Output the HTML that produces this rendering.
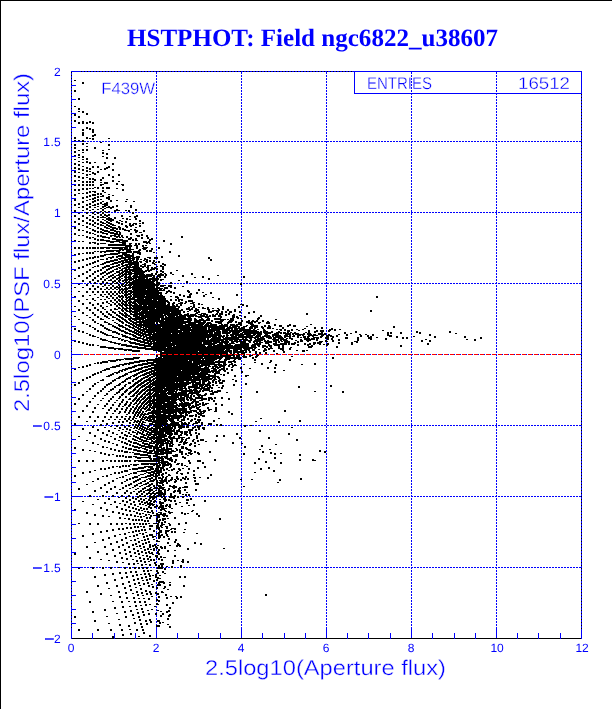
<!DOCTYPE html>
<html><head><meta charset="utf-8"><title>HSTPHOT: Field ngc6822_u38607</title>
<style>html,body{margin:0;padding:0;background:#fff}svg{display:block}</style></head>
<body>
<svg width="612" height="709" viewBox="0 0 612 709" shape-rendering="crispEdges">
<rect width="612" height="709" fill="#fff"/>
<rect x="0" y="0" width="612" height="1" fill="#000"/><rect x="0" y="0" width="1" height="709" fill="#000"/>
<rect x="354.5" y="71.5" width="227" height="22" fill="#fff" stroke="#00f" stroke-width="1"/>
<path d="M156.5 72V638M241.5 72V638M326.5 72V638M411.5 72V638M496.5 72V638M72 567.5H581M72 496.5H581M72 425.5H581M72 354.5H581M72 283.5H581M72 212.5H581M72 141.5H581" stroke="#00f" stroke-width="1" stroke-dasharray="2 1" fill="none"/>
<clipPath id="c"><rect x="71" y="71" width="511" height="568"/></clipPath><g clip-path="url(#c)">
<path d="M70 101h2M70 104h2M70 130h2M70 137h2M70 141h2M70 149h2M70 153h2M70 157h2M70 162h2M70 171h2M70 180h2M70 185h2M70 191h2M70 196h2M70 202h2M70 207h2M70 213h2M70 220h2M70 226h2M70 233h2M70 240h2M70 248h2M70 273h2M70 282h2M70 292h2M70 303h2M70 326h2M70 340h2M70 409h2M70 461h2M70 496h2M70 540h2M74 91h2M74 115h2M74 121h2M74 138h2M74 141h2M74 145h2M74 148h2M74 152h2M74 156h2M74 164h2M74 168h2M74 172h2M74 176h2M74 181h2M74 185h2M74 190h2M74 195h2M74 200h2M74 205h2M74 211h2M74 216h2M74 222h2M74 228h2M74 234h2M74 241h2M74 248h2M74 255h2M74 262h2M74 270h2M74 297h2M74 329h2M74 341h2M74 369h2M74 385h2M74 404h2M74 424h2M74 448h2M74 476h2M74 510h2M74 554h2M74 617h2M78 99h2M78 109h2M78 117h2M78 123h2M78 141h2M78 155h2M78 165h2M78 169h2M78 177h2M78 185h2M78 190h2M78 204h2M78 213h2M78 219h2M78 224h2M78 230h2M78 248h2M78 254h2M78 261h2M78 268h2M78 276h2M78 284h2M78 301h2M78 310h2M78 331h2M78 342h2M78 383h2M78 399h2M78 417h2M78 461h2M78 489h2M78 568h2M78 630h2M82 83h2M82 112h2M82 122h2M82 130h2M82 133h2M82 135h2M82 141h2M82 144h2M82 150h2M82 157h2M82 170h2M82 178h2M82 182h2M82 185h2M82 189h2M82 198h2M82 202h2M82 207h2M82 216h2M82 221h2M82 248h2M82 260h2M82 267h2M82 274h2M82 281h2M82 296h2M82 304h2M82 313h2M82 323h2M82 332h2M82 343h2M82 367h2M82 380h2M82 395h2M82 411h2M82 429h2M82 450h2M82 473h2M82 536h2M86 114h2M86 123h2M86 128h2M86 138h2M86 150h2M86 159h2M86 162h2M86 168h2M86 171h2M86 175h2M86 182h2M86 185h2M86 189h2M86 193h2M86 197h2M86 205h2M86 209h2M86 213h2M86 218h2M86 223h2M86 227h2M86 232h2M86 237h2M86 248h2M86 253h2M86 259h2M86 265h2M86 272h2M86 278h2M86 285h2M86 292h2M86 308h2M86 344h2M86 366h2M86 378h2M86 406h2M86 461h2M86 513h2M86 547h2M86 592h2M89 122h2M89 129h2M89 163h2M89 169h2M89 179h2M89 182h2M89 185h2M89 192h2M89 196h2M89 204h2M89 207h2M89 220h2M89 224h2M89 233h2M89 238h2M89 243h2M89 248h2M89 253h2M89 258h2M89 264h2M89 270h2M89 276h2M89 282h2M89 289h2M89 303h2M89 310h2M89 326h2M89 335h2M89 345h2M89 365h2M89 377h2M89 389h2M89 402h2M89 417h2M89 433h2M89 472h2M89 496h2M89 524h2M89 558h2M89 602h2M92 123h2M92 130h2M92 132h2M92 136h2M92 139h2M92 167h2M92 173h2M92 179h2M92 182h2M92 185h2M92 195h2M92 199h2M92 202h2M92 213h2M92 217h2M92 221h2M92 225h2M92 230h2M92 248h2M92 253h2M92 258h2M92 263h2M92 274h2M92 280h2M92 286h2M92 292h2M92 299h2M92 305h2M92 313h2M92 320h2M92 336h2M92 345h2M92 375h2M92 386h2M92 412h2M92 427h2M92 443h2M92 461h2M92 534h2M92 568h2M92 612h2M94 135h2M94 148h2M94 174h2M94 180h2M94 192h2M94 195h2M94 198h2M94 201h2M94 205h2M94 223h2M94 231h2M94 239h2M94 243h2M94 248h2M94 257h2M94 262h2M94 272h2M94 278h2M94 283h2M94 289h2M94 308h2M94 315h2M94 322h2M94 329h2M94 374h2M94 384h2M94 396h2M94 408h2M94 421h2M94 436h2M94 491h2M94 515h2M94 577h2M94 621h2M97 167h2M97 172h2M97 188h2M97 194h2M97 197h2M97 200h2M97 204h2M97 213h2M97 217h2M97 220h2M97 224h2M97 228h2M97 232h2M97 236h2M97 240h2M97 244h2M97 248h2M97 257h2M97 261h2M97 266h2M97 271h2M97 276h2M97 281h2M97 287h2M97 292h2M97 304h2M97 310h2M97 317h2M97 331h2M97 363h2M97 373h2M97 393h2M97 417h2M97 430h2M97 479h2M97 524h2M97 552h2M97 586h2M97 630h2M100 180h2M100 185h2M100 194h2M100 203h2M100 215h2M100 222h2M100 225h2M100 229h2M100 232h2M100 236h2M100 240h2M100 248h2M100 252h2M100 256h2M100 270h2M100 274h2M100 279h2M100 284h2M100 289h2M100 295h2M100 306h2M100 312h2M100 319h2M100 325h2M100 332h2M100 339h2M100 347h2M100 363h2M100 372h2M100 391h2M100 425h2M100 439h2M100 453h2M100 469h2M100 488h2M100 508h2M100 532h2M100 594h2M102 153h2M102 178h2M102 188h2M102 191h2M102 196h2M102 207h2M102 210h2M102 213h2M102 217h2M102 223h2M102 230h2M102 233h2M102 237h2M102 240h2M102 248h2M102 256h2M102 264h2M102 268h2M102 273h2M102 277h2M102 282h2M102 292h2M102 303h2M102 308h2M102 314h2M102 326h2M102 333h2M102 340h2M102 347h2M102 362h2M102 380h2M102 389h2M102 421h2M102 433h2M102 447h2M102 461h2M102 496h2M102 516h2M102 540h2M102 568h2M104 163h2M104 169h2M104 183h2M104 204h2M104 206h2M104 215h2M104 227h2M104 231h2M104 237h2M104 252h2M104 255h2M104 263h2M104 267h2M104 272h2M104 280h2M104 285h2M104 316h2M104 322h2M104 328h2M104 334h2M104 340h2M104 347h2M104 362h2M104 370h2M104 387h2M104 406h2M104 417h2M104 441h2M104 454h2M104 469h2M104 485h2M104 503h2M104 547h2M104 575h2M104 610h2M106 154h2M106 158h2M106 168h2M106 183h2M106 188h2M106 198h2M106 203h2M106 205h2M106 216h2M106 219h2M106 222h2M106 225h2M106 228h2M106 231h2M106 234h2M106 241h2M106 248h2M106 251h2M106 259h2M106 262h2M106 266h2M106 270h2M106 274h2M106 283h2M106 288h2M106 292h2M106 297h2M106 302h2M106 312h2M106 317h2M106 329h2M106 335h2M106 362h2M106 369h2M106 385h2M106 394h2M106 404h2M106 413h2M106 424h2M106 435h2M106 476h2M106 492h2M106 510h2M106 531h2M106 554h2M106 583h2M108 145h2M108 167h2M108 175h2M108 188h2M108 197h2M108 199h2M108 207h2M108 215h2M108 218h2M108 220h2M108 223h2M108 226h2M108 232h2M108 238h2M108 241h2M108 245h2M108 248h2M108 251h2M108 262h2M108 266h2M108 269h2M108 273h2M108 277h2M108 294h2M108 314h2M108 324h2M108 330h2M108 348h2M108 369h2M108 376h2M108 384h2M108 401h2M108 410h2M108 431h2M108 442h2M108 455h2M108 468h2M108 483h2M108 499h2M108 538h2M110 201h2M110 208h2M110 219h2M110 221h2M110 224h2M110 227h2M110 230h2M110 233h2M110 236h2M110 242h2M110 245h2M110 251h2M110 254h2M110 258h2M110 261h2M110 268h2M110 272h2M110 276h2M110 280h2M110 284h2M110 288h2M110 292h2M110 296h2M110 301h2M110 305h2M110 310h2M110 315h2M110 342h2M110 348h2M110 361h2M110 375h2M110 383h2M110 390h2M110 399h2M110 408h2M110 417h2M110 449h2M110 461h2M110 489h2M110 524h2M110 544h2M110 568h2M110 630h2M112 164h2M112 170h2M112 177h2M112 181h2M112 207h2M112 220h2M112 225h2M112 228h2M112 230h2M112 233h2M112 239h2M112 242h2M112 245h2M112 248h2M112 251h2M112 254h2M112 257h2M112 261h2M112 264h2M112 267h2M112 271h2M112 275h2M112 278h2M112 282h2M112 286h2M112 294h2M112 298h2M112 312h2M112 317h2M112 326h2M112 332h2M112 337h2M112 348h2M112 361h2M112 367h2M112 374h2M112 381h2M112 389h2M112 397h2M112 405h2M112 423h2M112 433h2M112 467h2M112 481h2M112 496h2M112 512h2M112 530h2M112 550h2M112 574h2M112 637h2M114 158h2M114 211h2M114 218h2M114 228h2M114 231h2M114 234h2M114 236h2M114 239h2M114 245h2M114 248h2M114 254h2M114 260h2M114 263h2M114 277h2M114 281h2M114 288h2M114 292h2M114 300h2M114 304h2M114 309h2M114 313h2M114 327h2M114 332h2M114 343h2M114 349h2M114 361h2M114 367h2M114 380h2M114 387h2M114 411h2M114 439h2M114 450h2M114 461h2M114 473h2M114 487h2M114 502h2M114 536h2M114 556h2M114 580h2M114 608h2M116 184h2M116 206h2M116 210h2M116 222h2M116 229h2M116 232h2M116 234h2M116 237h2M116 240h2M116 245h2M116 248h2M116 251h2M116 254h2M116 257h2M116 260h2M116 263h2M116 266h2M116 269h2M116 272h2M116 279h2M116 283h2M116 287h2M116 294h2M116 298h2M116 302h2M116 306h2M116 315h2M116 319h2M116 328h2M116 333h2M116 360h2M116 366h2M116 373h2M116 393h2M116 409h2M116 417h2M116 426h2M116 445h2M116 456h2M116 493h2M116 507h2M116 524h2M116 542h2M116 562h2M116 586h2M118 175h2M118 223h2M118 227h2M118 235h2M118 240h2M118 245h2M118 248h2M118 251h2M118 253h2M118 256h2M118 262h2M118 265h2M118 272h2M118 275h2M118 278h2M118 281h2M118 285h2M118 288h2M118 292h2M118 296h2M118 300h2M118 304h2M118 308h2M118 316h2M118 320h2M118 325h2M118 329h2M118 334h2M118 339h2M118 344h2M118 349h2M118 366h2M118 372h2M118 378h2M118 385h2M118 392h2M118 406h2M118 422h2M118 451h2M118 461h2M118 473h2M118 513h2M118 529h2M118 547h2M118 592h2M119 228h2M119 233h2M119 240h2M119 245h2M119 248h2M119 250h2M119 256h2M119 259h2M119 262h2M119 268h2M119 274h2M119 277h2M119 280h2M119 287h2M119 290h2M119 297h2M119 301h2M119 305h2M119 313h2M119 317h2M119 321h2M119 326h2M119 330h2M119 349h2M119 360h2M119 377h2M119 384h2M119 390h2M119 397h2M119 404h2M119 412h2M119 428h2M119 437h2M119 456h2M119 467h2M119 518h2M119 553h2M119 573h2M119 597h2M119 625h2M121 216h2M121 224h2M121 236h2M121 240h2M121 245h2M121 248h2M121 256h2M121 258h2M121 261h2M121 264h2M121 270h2M121 273h2M121 276h2M121 285h2M121 289h2M121 292h2M121 296h2M121 299h2M121 303h2M121 306h2M121 310h2M121 314h2M121 318h2M121 322h2M121 326h2M121 331h2M121 340h2M121 345h2M121 349h2M121 371h2M121 389h2M121 395h2M121 402h2M121 409h2M121 417h2M121 425h2M121 433h2M121 442h2M121 451h2M121 461h2M121 472h2M121 483h2M121 496h2M121 509h2M121 524h2M121 540h2M121 558h2M121 578h2M121 602h2M121 630h2M122 185h2M122 190h2M122 229h2M122 241h2M122 243h2M122 245h2M122 250h2M122 253h2M122 258h2M122 261h2M122 263h2M122 266h2M122 272h2M122 275h2M122 281h2M122 284h2M122 290h2M122 297h2M122 301h2M122 304h2M122 308h2M122 311h2M122 315h2M122 319h2M122 323h2M122 327h2M122 331h2M122 336h2M122 345h2M122 365h2M122 376h2M122 382h2M122 388h2M122 394h2M122 400h2M122 422h2M122 438h2M122 447h2M122 456h2M122 466h2M122 477h2M122 488h2M122 501h2M122 514h2M122 529h2M122 545h2M122 584h2M122 607h2M122 635h2M124 230h2M124 241h2M124 243h2M124 245h2M124 248h2M124 253h2M124 255h2M124 258h2M124 260h2M124 268h2M124 271h2M124 274h2M124 277h2M124 280h2M124 286h2M124 289h2M124 292h2M124 295h2M124 302h2M124 305h2M124 309h2M124 313h2M124 316h2M124 320h2M124 332h2M124 336h2M124 341h2M124 345h2M124 350h2M124 364h2M124 370h2M124 375h2M124 381h2M124 386h2M124 392h2M124 405h2M124 412h2M124 419h2M124 427h2M124 435h2M124 443h2M124 452h2M124 461h2M124 471h2M124 493h2M124 505h2M124 534h2M124 550h2M124 568h2M124 588h2M124 612h2M125 222h2M125 226h2M125 241h2M125 246h2M125 248h2M125 253h2M125 262h2M125 265h2M125 268h2M125 273h2M125 276h2M125 279h2M125 282h2M125 285h2M125 288h2M125 294h2M125 297h2M125 303h2M125 310h2M125 314h2M125 317h2M125 321h2M125 325h2M125 329h2M125 333h2M125 337h2M125 345h2M125 350h2M125 359h2M125 364h2M125 369h2M125 374h2M125 391h2M125 397h2M125 404h2M125 410h2M125 439h2M125 448h2M125 457h2M125 466h2M125 486h2M125 498h2M125 510h2M125 538h2M125 554h2M125 573h2M125 593h2M125 617h2M126 219h2M126 227h2M126 237h2M126 241h2M126 246h2M126 248h2M126 250h2M126 252h2M126 255h2M126 257h2M126 260h2M126 262h2M126 265h2M126 267h2M126 270h2M126 272h2M126 280h2M126 283h2M126 289h2M126 292h2M126 295h2M126 298h2M126 301h2M126 305h2M126 308h2M126 311h2M126 315h2M126 322h2M126 329h2M126 333h2M126 337h2M126 346h2M126 359h2M126 369h2M126 374h2M126 379h2M126 390h2M126 402h2M126 408h2M126 421h2M126 429h2M126 436h2M126 444h2M126 452h2M126 461h2M126 471h2M126 480h2M126 491h2M126 502h2M126 515h2M126 528h2M126 543h2M126 559h2M126 577h2M126 598h2M128 211h2M128 231h2M128 239h2M128 246h2M128 250h2M128 252h2M128 255h2M128 257h2M128 259h2M128 262h2M128 264h2M128 267h2M128 269h2M128 272h2M128 274h2M128 277h2M128 279h2M128 282h2M128 285h2M128 288h2M128 291h2M128 294h2M128 297h2M128 300h2M128 303h2M128 316h2M128 319h2M128 323h2M128 326h2M128 330h2M128 346h2M128 350h2M128 359h2M128 364h2M128 368h2M128 378h2M128 383h2M128 394h2M128 406h2M128 413h2M128 419h2M128 426h2M128 433h2M128 441h2M128 449h2M128 457h2M128 466h2M128 485h2M128 496h2M128 507h2M128 519h2M128 547h2M128 564h2M128 582h2M128 626h2M129 224h2M129 244h2M129 248h2M129 250h2M129 252h2M129 257h2M129 259h2M129 266h2M129 271h2M129 273h2M129 276h2M129 278h2M129 298h2M129 301h2M129 304h2M129 307h2M129 310h2M129 320h2M129 327h2M129 331h2M129 334h2M129 338h2M129 342h2M129 346h2M129 359h2M129 363h2M129 378h2M129 383h2M129 388h2M129 393h2M129 399h2M129 405h2M129 411h2M129 417h2M129 423h2M129 430h2M129 445h2M129 461h2M129 479h2M129 500h2M129 511h2M129 524h2M129 552h2M129 568h2M129 586h2M130 206h2M130 226h2M130 234h2M130 238h2M130 246h2M130 252h2M130 256h2M130 261h2M130 263h2M130 265h2M130 270h2M130 273h2M130 278h2M130 280h2M130 283h2M130 285h2M130 291h2M130 293h2M130 296h2M130 299h2M130 302h2M130 305h2M130 308h2M130 311h2M130 314h2M130 318h2M130 321h2M130 324h2M130 331h2M130 339h2M130 343h2M130 346h2M130 350h2M130 359h2M130 363h2M130 368h2M130 372h2M130 387h2M130 392h2M130 403h2M130 409h2M130 442h2M130 449h2M130 457h2M130 484h2M130 493h2M130 504h2M130 515h2M130 528h2M130 556h2M130 572h2M130 590h2M130 611h2M130 634h2M132 213h2M132 225h2M132 240h2M132 254h2M132 256h2M132 258h2M132 260h2M132 263h2M132 267h2M132 270h2M132 279h2M132 282h2M132 284h2M132 287h2M132 289h2M132 292h2M132 298h2M132 303h2M132 306h2M132 309h2M132 312h2M132 319h2M132 322h2M132 325h2M132 328h2M132 332h2M132 335h2M132 339h2M132 343h2M132 347h2M132 351h2M132 359h2M132 363h2M132 367h2M132 381h2M132 386h2M132 391h2M132 396h2M132 401h2M132 407h2M132 413h2M132 419h2M132 432h2M132 439h2M132 446h2M132 469h2M132 478h2M132 498h2M132 508h2M132 520h2M132 532h2M132 545h2M132 576h2M132 615h2M133 252h2M133 258h2M133 264h2M133 267h2M133 269h2M133 271h2M133 276h2M133 278h2M133 283h2M133 286h2M133 288h2M133 293h2M133 296h2M133 299h2M133 302h2M133 307h2M133 316h2M133 319h2M133 323h2M133 326h2M133 332h2M133 336h2M133 339h2M133 343h2M133 347h2M133 351h2M133 358h2M133 367h2M133 371h2M133 376h2M133 385h2M133 390h2M133 395h2M133 400h2M133 411h2M133 417h2M133 436h2M133 443h2M133 450h2M133 465h2M133 473h2M133 482h2M133 502h2M133 524h2M133 536h2M133 549h2M133 564h2M133 580h2M133 598h2M134 217h2M134 230h2M134 262h2M134 264h2M134 266h2M134 268h2M134 271h2M134 273h2M134 275h2M134 277h2M134 282h2M134 285h2M134 290h2M134 292h2M134 295h2M134 297h2M134 300h2M134 305h2M134 308h2M134 311h2M134 314h2M134 320h2M134 323h2M134 330h2M134 333h2M134 336h2M134 340h2M134 343h2M134 347h2M134 351h2M134 358h2M134 362h2M134 366h2M134 371h2M134 375h2M134 384h2M134 389h2M134 399h2M134 409h2M134 415h2M134 421h2M134 427h2M134 440h2M134 447h2M134 454h2M134 461h2M134 469h2M134 477h2M134 486h2M134 505h2M134 516h2M134 527h2M134 540h2M134 553h2M134 568h2M134 584h2M134 602h2M134 623h2M135 210h2M135 219h2M135 224h2M135 232h2M135 239h2M135 240h2M135 244h2M135 252h2M135 262h2M135 264h2M135 266h2M135 268h2M135 270h2M135 272h2M135 274h2M135 277h2M135 279h2M135 281h2M135 284h2M135 286h2M135 288h2M135 291h2M135 293h2M135 301h2M135 304h2M135 307h2M135 309h2M135 312h2M135 315h2M135 318h2M135 324h2M135 327h2M135 330h2M135 333h2M135 337h2M135 340h2M135 344h2M135 347h2M135 358h2M135 366h2M135 370h2M135 375h2M135 379h2M135 383h2M135 393h2M135 398h2M135 403h2M135 408h2M135 413h2M135 425h2M135 437h2M135 443h2M135 450h2M135 457h2M135 465h2M135 473h2M135 481h2M135 499h2M135 509h2M135 520h2M135 531h2M135 544h2M135 572h2M135 606h2M136 216h2M136 231h2M136 246h2M136 248h2M136 257h2M136 259h2M136 261h2M136 265h2M136 272h2M136 276h2M136 280h2M136 283h2M136 287h2M136 290h2M136 292h2M136 295h2M136 297h2M136 300h2M136 305h2M136 308h2M136 310h2M136 313h2M136 316h2M136 319h2M136 322h2M136 325h2M136 331h2M136 334h2M136 340h2M136 344h2M136 347h2M136 351h2M136 358h2M136 362h2M136 370h2M136 374h2M136 378h2M136 383h2M136 387h2M136 392h2M136 396h2M136 401h2M136 406h2M136 412h2M136 422h2M136 428h2M136 434h2M136 447h2M136 454h2M136 469h2M136 477h2M136 485h2M136 494h2M136 513h2M136 535h2M136 561h2M136 575h2M136 592h2M136 630h2M137 236h2M137 253h2M137 259h2M137 263h2M137 265h2M137 267h2M137 269h2M137 271h2M137 273h2M137 277h2M137 280h2M137 286h2M137 289h2M137 291h2M137 293h2M137 296h2M137 298h2M137 301h2M137 306h2M137 308h2M137 311h2M137 314h2M137 317h2M137 319h2M137 322h2M137 325h2M137 328h2M137 331h2M137 334h2M137 338h2M137 341h2M137 348h2M137 351h2M137 358h2M137 362h2M137 370h2M137 382h2M137 386h2M137 391h2M137 400h2M137 410h2M137 415h2M137 421h2M137 426h2M137 432h2M137 438h2M137 444h2M137 451h2M137 458h2M137 480h2M137 497h2M137 527h2M137 551h2M137 579h2M137 595h2M137 613h2M138 236h2M138 244h2M138 251h2M138 253h2M138 257h2M138 268h2M138 270h2M138 272h2M138 274h2M138 277h2M138 279h2M138 281h2M138 283h2M138 285h2M138 288h2M138 290h2M138 292h2M138 294h2M138 297h2M138 299h2M138 302h2M138 307h2M138 309h2M138 317h2M138 326h2M138 329h2M138 332h2M138 335h2M138 338h2M138 341h2M138 344h2M138 348h2M138 351h2M138 362h2M138 365h2M138 369h2M138 373h2M138 381h2M138 385h2M138 394h2M138 399h2M138 408h2M138 413h2M138 424h2M138 448h2M138 454h2M138 461h2M138 468h2M138 492h2M138 501h2M138 510h2M138 520h2M138 531h2M138 542h2M138 554h2M138 568h2M138 583h2M138 617h2M139 221h2M139 226h2M139 250h2M139 253h2M139 270h2M139 272h2M139 278h2M139 282h2M139 284h2M139 287h2M139 289h2M139 291h2M139 293h2M139 296h2M139 298h2M139 300h2M139 303h2M139 305h2M139 308h2M139 310h2M139 313h2M139 315h2M139 318h2M139 321h2M139 324h2M139 326h2M139 332h2M139 335h2M139 338h2M139 345h2M139 361h2M139 369h2M139 381h2M139 385h2M139 393h2M139 402h2M139 407h2M139 412h2M139 417h2M139 422h2M139 428h2M139 433h2M139 439h2M139 445h2M139 451h2M139 458h2M139 479h2M139 496h2M139 504h2M139 514h2M139 524h2M139 546h2M139 558h2M139 602h2M139 620h2M140 262h2M140 266h2M140 269h2M140 271h2M140 275h2M140 277h2M140 279h2M140 281h2M140 283h2M140 288h2M140 290h2M140 294h2M140 297h2M140 301h2M140 304h2M140 306h2M140 309h2M140 319h2M140 322h2M140 324h2M140 327h2M140 330h2M140 333h2M140 336h2M140 342h2M140 345h2M140 348h2M140 361h2M140 365h2M140 369h2M140 372h2M140 380h2M140 384h2M140 392h2M140 397h2M140 406h2M140 410h2M140 415h2M140 420h2M140 426h2M140 437h2M140 455h2M140 461h2M140 468h2M140 483h2M140 491h2M140 499h2M140 508h2M140 517h2M140 561h2M140 589h2M140 624h2M141 235h2M141 238h2M141 271h2M141 273h2M141 279h2M141 283h2M141 285h2M141 291h2M141 293h2M141 295h2M141 298h2M141 300h2M141 302h2M141 307h2M141 309h2M141 312h2M141 314h2M141 317h2M141 322h2M141 325h2M141 330h2M141 333h2M141 342h2M141 345h2M141 348h2M141 361h2M141 365h2M141 368h2M141 372h2M141 379h2M141 383h2M141 387h2M141 391h2M141 396h2M141 404h2M141 414h2M141 419h2M141 424h2M141 429h2M141 434h2M141 440h2M141 446h2M141 464h2M141 471h2M141 494h2M141 502h2M141 520h2M141 530h2M141 552h2M141 565h2M141 578h2M141 593h2M141 609h2M141 627h2M142 223h2M142 246h2M142 274h2M142 276h2M142 280h2M142 282h2M142 286h2M142 288h2M142 290h2M142 292h2M142 296h2M142 299h2M142 303h2M142 308h2M142 310h2M142 315h2M142 318h2M142 320h2M142 325h2M142 331h2M142 334h2M142 339h2M142 345h2M142 361h2M142 371h2M142 375h2M142 383h2M142 386h2M142 390h2M142 399h2M142 403h2M142 408h2M142 412h2M142 417h2M142 422h2M142 427h2M142 432h2M142 437h2M142 443h2M142 455h2M142 461h2M142 468h2M142 489h2M142 524h2M142 534h2M142 544h2M142 568h2M142 612h2M142 630h2M143 231h2M143 242h2M143 248h2M143 249h2M143 272h2M143 275h2M143 277h2M143 279h2M143 281h2M143 283h2M143 285h2M143 287h2M143 289h2M143 293h2M143 295h2M143 297h2M143 300h2M143 302h2M143 306h2M143 309h2M143 311h2M143 313h2M143 316h2M143 321h2M143 323h2M143 326h2M143 329h2M143 337h2M143 340h2M143 342h2M143 348h2M143 361h2M143 364h2M143 371h2M143 375h2M143 378h2M143 382h2M143 386h2M143 390h2M143 394h2M143 398h2M143 402h2M143 406h2M143 415h2M143 430h2M143 435h2M143 441h2M143 446h2M143 452h2M143 464h2M143 471h2M143 492h2M143 500h2M143 509h2M143 527h2M143 537h2M143 547h2M143 559h2M143 571h2M143 584h2M143 615h2M143 633h2M144 242h2M144 249h2M144 259h2M144 264h2M144 266h2M144 276h2M144 286h2M144 288h2M144 301h2M144 303h2M144 305h2M144 307h2M144 309h2M144 312h2M144 321h2M144 324h2M144 326h2M144 332h2M144 334h2M144 340h2M144 343h2M144 346h2M144 348h2M144 364h2M144 367h2M144 371h2M144 374h2M144 381h2M144 385h2M144 389h2M144 393h2M144 397h2M144 401h2M144 409h2M144 414h2M144 418h2M144 428h2M144 438h2M144 444h2M144 449h2M144 455h2M144 461h2M144 467h2M144 481h2M144 488h2M144 496h2M144 503h2M144 521h2M144 530h2M144 540h2M144 550h2M144 562h2M144 574h2M144 602h2M145 242h2M145 248h2M145 271h2M145 276h2M145 281h2M145 283h2M145 287h2M145 293h2M145 297h2M145 299h2M145 301h2M145 304h2M145 306h2M145 308h2M145 310h2M145 315h2M145 317h2M145 320h2M145 322h2M145 324h2M145 327h2M145 329h2M145 332h2M145 335h2M145 340h2M145 343h2M145 349h2M145 364h2M145 367h2M145 374h2M145 377h2M145 381h2M145 388h2M145 400h2M145 404h2M145 408h2M145 417h2M145 431h2M145 441h2M145 447h2M145 452h2M145 464h2M145 471h2M145 477h2M145 484h2M145 515h2M145 524h2M145 543h2M145 553h2M145 577h2M145 591h2M145 605h2M145 621h2M146 236h2M146 243h2M146 251h2M146 260h2M146 262h2M146 277h2M146 279h2M146 281h2M146 283h2M146 288h2M146 292h2M146 294h2M146 296h2M146 302h2M146 304h2M146 307h2M146 309h2M146 311h2M146 313h2M146 320h2M146 323h2M146 325h2M146 327h2M146 330h2M146 332h2M146 335h2M146 338h2M146 343h2M146 346h2M146 361h2M146 364h2M146 367h2M146 370h2M146 373h2M146 377h2M146 380h2M146 384h2M146 391h2M146 395h2M146 399h2M146 403h2M146 407h2M146 420h2M146 429h2M146 434h2M146 439h2M146 444h2M146 450h2M146 455h2M146 461h2M146 494h2M146 502h2M146 509h2M146 518h2M146 536h2M146 556h2M146 568h2M146 580h2M146 594h2M146 624h2M147 238h2M147 266h2M147 268h2M147 270h2M147 275h2M147 276h2M147 280h2M147 284h2M147 285h2M147 287h2M147 289h2M147 291h2M147 293h2M147 295h2M147 297h2M147 299h2M147 301h2M147 307h2M147 312h2M147 316h2M147 318h2M147 321h2M147 323h2M147 325h2M147 330h2M147 335h2M147 341h2M147 343h2M147 346h2M147 349h2M147 376h2M147 380h2M147 383h2M147 387h2M147 390h2M147 394h2M147 398h2M147 402h2M147 410h2M147 414h2M147 418h2M147 427h2M147 432h2M147 437h2M147 447h2M147 453h2M147 464h2M147 470h2M147 476h2M147 483h2M147 490h2M147 504h2M147 512h2M147 521h2M147 539h2M147 549h2M147 559h2M147 571h2M147 583h2M148 242h2M148 271h2M148 276h2M148 285h2M148 290h2M148 292h2M148 294h2M148 300h2M148 302h2M148 308h2M148 312h2M148 315h2M148 319h2M148 321h2M148 324h2M148 326h2M148 328h2M148 331h2M148 333h2M148 338h2M148 341h2M148 344h2M148 360h2M148 363h2M148 366h2M148 373h2M148 379h2M148 386h2M148 390h2M148 393h2M148 397h2M148 401h2M148 405h2M148 409h2M148 413h2M148 417h2M148 421h2M148 426h2M148 435h2M148 445h2M148 456h2M148 461h2M148 467h2M148 473h2M148 486h2M148 493h2M148 500h2M148 507h2M148 542h2M148 552h2M148 574h2M148 586h2M148 599h2M148 614h2M149 240h2M149 251h2M149 258h2M149 261h2M149 275h2M149 279h2M149 281h2M149 282h2M149 283h2M149 284h2M149 285h2M149 286h2M149 288h2M149 289h2M149 292h2M149 293h2M149 294h2M149 296h2M149 297h2M149 298h2M149 299h2M149 300h2M149 301h2M149 303h2M149 304h2M149 305h2M149 309h2M149 310h2M149 311h2M149 313h2M149 314h2M149 315h2M149 316h2M149 318h2M149 320h2M149 322h2M149 326h2M149 327h2M149 329h2M149 331h2M149 332h2M149 334h2M149 336h2M149 339h2M149 341h2M149 344h2M149 346h2M149 349h2M149 360h2M149 363h2M149 366h2M149 369h2M149 372h2M149 375h2M149 379h2M149 381h2M149 382h2M149 385h2M149 389h2M149 392h2M149 395h2M149 396h2M149 399h2M149 402h2M149 404h2M149 406h2M149 407h2M149 410h2M149 416h2M149 418h2M149 420h2M149 424h2M149 433h2M149 438h2M149 443h2M149 446h2M149 448h2M149 451h2M149 453h2M149 456h2M149 458h2M149 461h2M149 467h2M149 470h2M149 473h2M149 476h2M149 479h2M149 485h2M149 489h2M149 491h2M149 496h2M149 498h2M149 503h2M149 505h2M149 518h2M149 526h2M149 529h2M149 535h2M149 545h2M149 547h2M149 557h2M149 565h2M149 576h2M149 579h2M149 592h2M149 620h2M149 636h2M150 251h2M150 270h2M150 276h2M150 279h2M150 286h2M150 288h2M150 291h2M150 293h2M150 295h2M150 299h2M150 300h2M150 302h2M150 304h2M150 306h2M150 308h2M150 314h2M150 319h2M150 321h2M150 323h2M150 325h2M150 330h2M150 332h2M150 334h2M150 337h2M150 339h2M150 342h2M150 344h2M150 349h2M150 360h2M150 369h2M150 372h2M150 381h2M150 384h2M150 387h2M150 394h2M150 398h2M150 405h2M150 413h2M150 417h2M150 421h2M150 430h2M150 434h2M150 439h2M150 443h2M150 448h2M150 453h2M150 459h2M150 464h2M150 469h2M150 475h2M150 481h2M150 494h2M150 501h2M150 508h2M150 516h2M150 560h2M150 594h2M150 622h2M151 239h2M151 249h2M151 268h2M151 274h2M151 275h2M151 279h2M151 282h2M151 283h2M151 285h2M151 287h2M151 289h2M151 290h2M151 292h2M151 294h2M151 296h2M151 297h2M151 301h2M151 303h2M151 305h2M151 309h2M151 311h2M151 313h2M151 315h2M151 317h2M151 319h2M151 328h2M151 330h2M151 332h2M151 337h2M151 339h2M151 347h2M151 349h2M151 363h2M151 365h2M151 371h2M151 374h2M151 377h2M151 384h2M151 390h2M151 401h2M151 408h2M151 412h2M151 416h2M151 424h2M151 428h2M151 432h2M151 437h2M151 441h2M151 446h2M151 451h2M151 461h2M151 467h2M151 472h2M151 478h2M151 484h2M151 490h2M151 497h2M151 504h2M151 511h2M151 526h2M151 535h2M151 553h2M152 263h2M152 269h2M152 278h2M152 280h2M152 281h2M152 286h2M152 288h2M152 290h2M152 297h2M152 298h2M152 304h2M152 308h2M152 320h2M152 324h2M152 326h2M152 328h2M152 335h2M152 337h2M152 340h2M152 347h2M152 349h2M152 360h2M152 363h2M152 365h2M152 368h2M152 374h2M152 380h2M152 383h2M152 396h2M152 403h2M152 407h2M152 411h2M152 414h2M152 418h2M152 422h2M152 464h2M152 469h2M152 475h2M152 481h2M152 493h2M152 499h2M152 513h2M152 537h2M152 546h2M152 587h2M153 261h2M153 276h2M153 278h2M153 284h2M153 285h2M153 286h2M153 287h2M153 288h2M153 289h2M153 290h2M153 291h2M153 292h2M153 293h2M153 294h2M153 295h2M153 296h2M153 297h2M153 299h2M153 300h2M153 301h2M153 302h2M153 303h2M153 305h2M153 307h2M153 308h2M153 311h2M153 312h2M153 313h2M153 314h2M153 315h2M153 316h2M153 319h2M153 321h2M153 324h2M153 327h2M153 329h2M153 331h2M153 333h2M153 335h2M153 336h2M153 338h2M153 340h2M153 342h2M153 345h2M153 347h2M153 349h2M153 350h2M153 360h2M153 362h2M153 365h2M153 368h2M153 371h2M153 373h2M153 374h2M153 376h2M153 382h2M153 383h2M153 385h2M153 388h2M153 389h2M153 391h2M153 395h2M153 399h2M153 401h2M153 402h2M153 405h2M153 406h2M153 408h2M153 409h2M153 412h2M153 416h2M153 417h2M153 419h2M153 421h2M153 429h2M153 431h2M153 437h2M153 442h2M153 447h2M153 449h2M153 456h2M153 459h2M153 461h2M153 464h2M153 472h2M153 480h2M153 486h2M153 496h2M153 498h2M153 502h2M153 531h2M153 549h2M153 560h2M153 581h2M154 258h2M154 268h2M154 279h2M154 289h2M154 290h2M154 292h2M154 294h2M154 295h2M154 297h2M154 301h2M154 302h2M154 304h2M154 306h2M154 310h2M154 315h2M154 319h2M154 325h2M154 327h2M154 329h2M154 331h2M154 336h2M154 340h2M154 343h2M154 345h2M154 350h2M154 360h2M154 362h2M154 365h2M154 367h2M154 370h2M154 385h2M154 388h2M154 394h2M154 400h2M154 404h2M154 407h2M154 411h2M154 426h2M154 430h2M154 434h2M154 438h2M154 442h2M154 452h2M154 456h2M154 461h2M154 471h2M154 488h2M154 494h2M154 501h2M154 507h2M154 545h2M154 563h2M155 274h2M155 280h2M155 285h2M155 290h2M155 295h2M155 296h2M155 300h2M155 301h2M155 305h2M155 307h2M155 312h2M155 318h2M155 320h2M155 326h2M155 330h2M155 334h2M155 336h2M155 338h2M155 343h2M155 345h2M155 347h2M155 349h2M155 359h2M155 362h2M155 365h2M155 366h2M155 367h2M155 370h2M155 373h2M155 374h2M155 375h2M155 378h2M155 381h2M155 382h2M155 384h2M155 386h2M155 390h2M155 392h2M155 393h2M155 394h2M155 396h2M155 400h2M155 403h2M155 406h2M155 414h2M155 421h2M155 423h2M155 424h2M155 428h2M155 433h2M155 441h2M155 445h2M155 446h2M155 448h2M155 454h2M155 459h2M155 464h2M155 469h2M155 474h2M155 476h2M155 478h2M155 479h2M155 497h2M155 547h2M155 556h2M155 565h2M155 575h2M155 577h2M155 593h2M155 614h2M156 258h2M156 269h2M156 272h2M156 278h2M156 281h2M156 282h2M156 284h2M156 285h2M156 287h2M156 288h2M156 289h2M156 291h2M156 292h2M156 293h2M156 294h2M156 298h2M156 299h2M156 303h2M156 304h2M156 305h2M156 306h2M156 307h2M156 308h2M156 310h2M156 311h2M156 313h2M156 314h2M156 315h2M156 318h2M156 320h2M156 321h2M156 322h2M156 326h2M156 328h2M156 330h2M156 332h2M156 335h2M156 337h2M156 339h2M156 341h2M156 343h2M156 344h2M156 345h2M156 347h2M156 350h2M156 356h2M156 359h2M156 361h2M156 362h2M156 364h2M156 365h2M156 366h2M156 367h2M156 369h2M156 370h2M156 372h2M156 374h2M156 375h2M156 376h2M156 377h2M156 378h2M156 380h2M156 382h2M156 383h2M156 384h2M156 385h2M156 386h2M156 388h2M156 389h2M156 390h2M156 391h2M156 392h2M156 395h2M156 396h2M156 397h2M156 399h2M156 402h2M156 404h2M156 405h2M156 408h2M156 409h2M156 410h2M156 411h2M156 412h2M156 414h2M156 415h2M156 416h2M156 419h2M156 421h2M156 422h2M156 425h2M156 426h2M156 428h2M156 429h2M156 433h2M156 439h2M156 441h2M156 444h2M156 445h2M156 447h2M156 450h2M156 452h2M156 454h2M156 456h2M156 459h2M156 461h2M156 465h2M156 466h2M156 468h2M156 471h2M156 473h2M156 476h2M156 482h2M156 484h2M156 485h2M156 488h2M156 493h2M156 506h2M156 514h2M156 519h2M156 521h2M156 526h2M156 528h2M156 541h2M156 548h2M156 557h2M156 571h2M156 580h2M156 588h2M156 600h2M156 604h2M156 626h2M157 276h2M157 279h2M157 285h2M157 291h2M157 292h2M157 295h2M157 305h2M157 307h2M157 310h2M157 312h2M157 316h2M157 317h2M157 321h2M157 325h2M157 328h2M157 331h2M157 335h2M157 337h2M157 338h2M157 339h2M157 341h2M157 348h2M157 359h2M157 360h2M157 362h2M157 363h2M157 364h2M157 366h2M157 367h2M157 369h2M157 370h2M157 372h2M157 374h2M157 377h2M157 379h2M157 380h2M157 383h2M157 385h2M157 388h2M157 389h2M157 390h2M157 391h2M157 392h2M157 394h2M157 397h2M157 398h2M157 400h2M157 403h2M157 404h2M157 406h2M157 407h2M157 410h2M157 417h2M157 420h2M157 423h2M157 424h2M157 426h2M157 428h2M157 432h2M157 437h2M157 438h2M157 439h2M157 441h2M157 443h2M157 444h2M157 448h2M157 451h2M157 452h2M157 457h2M157 466h2M157 469h2M157 471h2M157 473h2M157 496h2M157 515h2M157 517h2M157 521h2M157 526h2M157 552h2M157 553h2M157 568h2M157 573h2M157 578h2M157 585h2M157 594h2M157 621h2M158 248h2M158 262h2M158 275h2M158 283h2M158 284h2M158 288h2M158 293h2M158 297h2M158 298h2M158 299h2M158 300h2M158 301h2M158 302h2M158 303h2M158 304h2M158 305h2M158 306h2M158 307h2M158 308h2M158 309h2M158 310h2M158 311h2M158 313h2M158 315h2M158 316h2M158 318h2M158 320h2M158 325h2M158 328h2M158 329h2M158 333h2M158 335h2M158 337h2M158 339h2M158 341h2M158 344h2M158 345h2M158 346h2M158 348h2M158 350h2M158 351h2M158 358h2M158 359h2M158 361h2M158 362h2M158 364h2M158 366h2M158 367h2M158 369h2M158 370h2M158 371h2M158 374h2M158 376h2M158 377h2M158 379h2M158 380h2M158 381h2M158 382h2M158 383h2M158 384h2M158 385h2M158 387h2M158 388h2M158 390h2M158 391h2M158 396h2M158 399h2M158 402h2M158 403h2M158 404h2M158 405h2M158 406h2M158 407h2M158 409h2M158 411h2M158 412h2M158 413h2M158 416h2M158 418h2M158 419h2M158 423h2M158 424h2M158 425h2M158 426h2M158 428h2M158 432h2M158 434h2M158 437h2M158 440h2M158 442h2M158 450h2M158 454h2M158 457h2M158 458h2M158 459h2M158 462h2M158 463h2M158 466h2M158 471h2M158 473h2M158 475h2M158 478h2M158 486h2M158 489h2M158 490h2M158 491h2M158 494h2M158 508h2M158 515h2M158 517h2M158 521h2M158 522h2M158 528h2M158 529h2M158 533h2M158 535h2M158 536h2M158 538h2M158 550h2M158 554h2M158 559h2M158 566h2M158 583h2M158 597h2M158 601h2M158 621h2M158 626h2M159 277h2M159 290h2M159 296h2M159 299h2M159 301h2M159 304h2M159 305h2M159 307h2M159 315h2M159 317h2M159 321h2M159 322h2M159 326h2M159 328h2M159 331h2M159 332h2M159 333h2M159 334h2M159 336h2M159 337h2M159 338h2M159 342h2M159 344h2M159 346h2M159 348h2M159 359h2M159 360h2M159 361h2M159 362h2M159 364h2M159 365h2M159 366h2M159 367h2M159 368h2M159 369h2M159 371h2M159 372h2M159 374h2M159 375h2M159 376h2M159 377h2M159 379h2M159 380h2M159 381h2M159 382h2M159 384h2M159 387h2M159 390h2M159 395h2M159 398h2M159 401h2M159 402h2M159 404h2M159 406h2M159 407h2M159 410h2M159 414h2M159 417h2M159 419h2M159 420h2M159 424h2M159 427h2M159 430h2M159 431h2M159 432h2M159 436h2M159 438h2M159 439h2M159 441h2M159 443h2M159 446h2M159 450h2M159 458h2M159 465h2M159 478h2M159 483h2M159 488h2M159 492h2M159 502h2M159 503h2M159 507h2M159 520h2M159 531h2M159 532h2M159 537h2M159 568h2M159 582h2M159 585h2M159 623h2M160 266h2M160 271h2M160 274h2M160 280h2M160 286h2M160 289h2M160 293h2M160 294h2M160 295h2M160 297h2M160 300h2M160 301h2M160 302h2M160 303h2M160 306h2M160 308h2M160 309h2M160 310h2M160 311h2M160 312h2M160 314h2M160 315h2M160 321h2M160 323h2M160 325h2M160 326h2M160 329h2M160 330h2M160 332h2M160 334h2M160 338h2M160 340h2M160 343h2M160 344h2M160 346h2M160 350h2M160 352h2M160 353h2M160 355h2M160 357h2M160 359h2M160 361h2M160 362h2M160 363h2M160 364h2M160 366h2M160 367h2M160 368h2M160 369h2M160 370h2M160 371h2M160 372h2M160 373h2M160 375h2M160 376h2M160 378h2M160 380h2M160 381h2M160 383h2M160 385h2M160 386h2M160 388h2M160 389h2M160 391h2M160 392h2M160 394h2M160 395h2M160 396h2M160 397h2M160 399h2M160 400h2M160 402h2M160 403h2M160 405h2M160 406h2M160 408h2M160 409h2M160 412h2M160 415h2M160 418h2M160 421h2M160 422h2M160 426h2M160 429h2M160 430h2M160 431h2M160 433h2M160 435h2M160 436h2M160 439h2M160 441h2M160 442h2M160 443h2M160 446h2M160 447h2M160 451h2M160 453h2M160 468h2M160 470h2M160 472h2M160 482h2M160 483h2M160 487h2M160 492h2M160 494h2M160 496h2M160 503h2M160 505h2M160 507h2M160 510h2M160 513h2M160 514h2M160 526h2M160 531h2M160 547h2M160 557h2M160 564h2M160 616h2M161 257h2M161 296h2M161 298h2M161 302h2M161 305h2M161 307h2M161 310h2M161 311h2M161 317h2M161 318h2M161 320h2M161 322h2M161 324h2M161 329h2M161 331h2M161 334h2M161 336h2M161 338h2M161 340h2M161 341h2M161 342h2M161 344h2M161 346h2M161 348h2M161 355h2M161 356h2M161 359h2M161 363h2M161 364h2M161 368h2M161 370h2M161 371h2M161 373h2M161 374h2M161 375h2M161 377h2M161 380h2M161 382h2M161 383h2M161 385h2M161 386h2M161 388h2M161 390h2M161 391h2M161 392h2M161 393h2M161 394h2M161 396h2M161 401h2M161 402h2M161 403h2M161 409h2M161 412h2M161 415h2M161 417h2M161 418h2M161 420h2M161 430h2M161 435h2M161 437h2M161 441h2M161 445h2M161 449h2M161 450h2M161 454h2M161 457h2M161 459h2M161 461h2M161 462h2M161 475h2M161 479h2M161 481h2M161 483h2M161 488h2M161 508h2M161 509h2M161 523h2M161 524h2M161 535h2M161 548h2M161 560h2M161 566h2M161 568h2M161 582h2M161 592h2M162 264h2M162 267h2M162 268h2M162 269h2M162 272h2M162 275h2M162 286h2M162 299h2M162 300h2M162 301h2M162 302h2M162 303h2M162 305h2M162 306h2M162 309h2M162 311h2M162 313h2M162 316h2M162 317h2M162 319h2M162 321h2M162 322h2M162 323h2M162 324h2M162 326h2M162 327h2M162 328h2M162 330h2M162 331h2M162 333h2M162 337h2M162 339h2M162 340h2M162 342h2M162 343h2M162 344h2M162 346h2M162 348h2M162 350h2M162 353h2M162 359h2M162 361h2M162 363h2M162 365h2M162 368h2M162 370h2M162 372h2M162 373h2M162 374h2M162 375h2M162 376h2M162 377h2M162 378h2M162 379h2M162 380h2M162 381h2M162 382h2M162 383h2M162 384h2M162 385h2M162 386h2M162 387h2M162 392h2M162 393h2M162 395h2M162 397h2M162 398h2M162 400h2M162 406h2M162 407h2M162 411h2M162 415h2M162 416h2M162 417h2M162 422h2M162 424h2M162 431h2M162 432h2M162 433h2M162 435h2M162 436h2M162 440h2M162 442h2M162 443h2M162 444h2M162 445h2M162 451h2M162 453h2M162 454h2M162 459h2M162 461h2M162 463h2M162 466h2M162 468h2M162 474h2M162 477h2M162 485h2M162 489h2M162 494h2M162 503h2M162 506h2M162 508h2M162 515h2M162 519h2M162 564h2M162 572h2M162 582h2M162 614h2M163 241h2M163 290h2M163 297h2M163 298h2M163 300h2M163 301h2M163 303h2M163 306h2M163 308h2M163 309h2M163 312h2M163 313h2M163 323h2M163 325h2M163 326h2M163 330h2M163 333h2M163 335h2M163 337h2M163 339h2M163 341h2M163 343h2M163 344h2M163 345h2M163 348h2M163 357h2M163 359h2M163 360h2M163 361h2M163 363h2M163 365h2M163 367h2M163 368h2M163 369h2M163 370h2M163 372h2M163 374h2M163 377h2M163 379h2M163 381h2M163 384h2M163 385h2M163 386h2M163 387h2M163 391h2M163 396h2M163 397h2M163 399h2M163 401h2M163 402h2M163 405h2M163 410h2M163 411h2M163 412h2M163 413h2M163 414h2M163 418h2M163 420h2M163 425h2M163 428h2M163 429h2M163 430h2M163 437h2M163 440h2M163 441h2M163 448h2M163 450h2M163 453h2M163 470h2M163 481h2M163 496h2M163 499h2M163 509h2M163 514h2M163 516h2M163 537h2M163 583h2M164 265h2M164 277h2M164 288h2M164 299h2M164 300h2M164 301h2M164 302h2M164 304h2M164 305h2M164 306h2M164 309h2M164 311h2M164 312h2M164 313h2M164 314h2M164 315h2M164 319h2M164 322h2M164 323h2M164 325h2M164 328h2M164 329h2M164 330h2M164 332h2M164 333h2M164 334h2M164 337h2M164 339h2M164 340h2M164 341h2M164 343h2M164 345h2M164 347h2M164 349h2M164 351h2M164 353h2M164 356h2M164 359h2M164 360h2M164 361h2M164 363h2M164 364h2M164 365h2M164 367h2M164 368h2M164 369h2M164 371h2M164 372h2M164 374h2M164 376h2M164 377h2M164 379h2M164 381h2M164 383h2M164 384h2M164 386h2M164 389h2M164 390h2M164 393h2M164 395h2M164 396h2M164 401h2M164 404h2M164 405h2M164 406h2M164 407h2M164 409h2M164 410h2M164 412h2M164 416h2M164 417h2M164 421h2M164 422h2M164 425h2M164 426h2M164 430h2M164 431h2M164 435h2M164 439h2M164 441h2M164 457h2M164 463h2M164 465h2M164 480h2M164 490h2M164 492h2M164 494h2M164 498h2M164 500h2M164 515h2M164 519h2M164 522h2M164 547h2M164 569h2M164 587h2M165 275h2M165 301h2M165 306h2M165 307h2M165 310h2M165 317h2M165 318h2M165 319h2M165 321h2M165 324h2M165 326h2M165 329h2M165 331h2M165 332h2M165 334h2M165 335h2M165 336h2M165 338h2M165 339h2M165 340h2M165 341h2M165 343h2M165 349h2M165 351h2M165 352h2M165 353h2M165 354h2M165 355h2M165 356h2M165 358h2M165 359h2M165 360h2M165 361h2M165 362h2M165 365h2M165 366h2M165 367h2M165 368h2M165 370h2M165 371h2M165 373h2M165 374h2M165 376h2M165 377h2M165 378h2M165 381h2M165 382h2M165 383h2M165 385h2M165 389h2M165 390h2M165 391h2M165 394h2M165 395h2M165 397h2M165 398h2M165 399h2M165 400h2M165 405h2M165 407h2M165 410h2M165 411h2M165 416h2M165 419h2M165 423h2M165 428h2M165 430h2M165 432h2M165 433h2M165 436h2M165 439h2M165 443h2M165 452h2M165 453h2M165 458h2M165 465h2M165 473h2M165 479h2M165 480h2M165 481h2M165 500h2M165 506h2M165 531h2M165 533h2M165 595h2M166 288h2M166 292h2M166 308h2M166 310h2M166 311h2M166 313h2M166 319h2M166 320h2M166 322h2M166 327h2M166 330h2M166 334h2M166 337h2M166 338h2M166 340h2M166 342h2M166 343h2M166 345h2M166 351h2M166 352h2M166 353h2M166 354h2M166 356h2M166 358h2M166 359h2M166 360h2M166 362h2M166 363h2M166 364h2M166 365h2M166 366h2M166 367h2M166 368h2M166 369h2M166 371h2M166 373h2M166 374h2M166 375h2M166 376h2M166 377h2M166 380h2M166 381h2M166 382h2M166 383h2M166 384h2M166 385h2M166 387h2M166 389h2M166 396h2M166 401h2M166 404h2M166 406h2M166 412h2M166 421h2M166 424h2M166 427h2M166 428h2M166 433h2M166 439h2M166 440h2M166 443h2M166 444h2M166 446h2M166 449h2M166 450h2M166 454h2M166 456h2M166 458h2M166 462h2M166 469h2M166 483h2M166 505h2M166 516h2M166 527h2M166 535h2M166 598h2M166 605h2M166 612h2M167 302h2M167 305h2M167 307h2M167 309h2M167 310h2M167 311h2M167 312h2M167 314h2M167 318h2M167 322h2M167 324h2M167 325h2M167 326h2M167 328h2M167 332h2M167 334h2M167 336h2M167 337h2M167 338h2M167 339h2M167 340h2M167 344h2M167 345h2M167 348h2M167 349h2M167 351h2M167 352h2M167 356h2M167 357h2M167 358h2M167 359h2M167 360h2M167 362h2M167 363h2M167 364h2M167 365h2M167 366h2M167 368h2M167 370h2M167 371h2M167 372h2M167 375h2M167 377h2M167 379h2M167 381h2M167 382h2M167 383h2M167 384h2M167 388h2M167 389h2M167 390h2M167 393h2M167 398h2M167 399h2M167 400h2M167 402h2M167 403h2M167 404h2M167 409h2M167 411h2M167 412h2M167 413h2M167 416h2M167 417h2M167 418h2M167 426h2M167 427h2M167 430h2M167 432h2M167 433h2M167 434h2M167 442h2M167 443h2M167 450h2M167 452h2M167 459h2M167 463h2M167 465h2M167 531h2M167 543h2M167 551h2M167 619h2M168 286h2M168 303h2M168 305h2M168 308h2M168 309h2M168 310h2M168 311h2M168 313h2M168 317h2M168 320h2M168 322h2M168 323h2M168 324h2M168 326h2M168 327h2M168 328h2M168 329h2M168 331h2M168 336h2M168 339h2M168 342h2M168 343h2M168 344h2M168 345h2M168 346h2M168 347h2M168 348h2M168 349h2M168 350h2M168 351h2M168 354h2M168 358h2M168 360h2M168 361h2M168 362h2M168 363h2M168 364h2M168 366h2M168 368h2M168 369h2M168 372h2M168 373h2M168 374h2M168 376h2M168 377h2M168 379h2M168 381h2M168 385h2M168 387h2M168 390h2M168 391h2M168 397h2M168 399h2M168 400h2M168 402h2M168 406h2M168 409h2M168 412h2M168 414h2M168 417h2M168 418h2M168 419h2M168 431h2M168 433h2M168 437h2M168 441h2M168 449h2M168 475h2M168 481h2M168 489h2M168 500h2M168 512h2M168 539h2M168 611h2M168 616h2M169 252h2M169 308h2M169 310h2M169 311h2M169 314h2M169 317h2M169 318h2M169 320h2M169 321h2M169 322h2M169 324h2M169 329h2M169 331h2M169 332h2M169 334h2M169 337h2M169 338h2M169 341h2M169 343h2M169 344h2M169 346h2M169 348h2M169 351h2M169 352h2M169 354h2M169 355h2M169 356h2M169 357h2M169 359h2M169 360h2M169 361h2M169 362h2M169 363h2M169 364h2M169 365h2M169 366h2M169 367h2M169 368h2M169 369h2M169 370h2M169 371h2M169 372h2M169 373h2M169 378h2M169 382h2M169 384h2M169 387h2M169 388h2M169 389h2M169 391h2M169 392h2M169 393h2M169 402h2M169 403h2M169 405h2M169 407h2M169 410h2M169 411h2M169 412h2M169 413h2M169 415h2M169 419h2M169 425h2M169 426h2M169 427h2M169 432h2M169 433h2M169 436h2M169 438h2M169 444h2M169 446h2M169 452h2M169 459h2M169 460h2M169 464h2M169 486h2M169 497h2M169 505h2M169 507h2M169 513h2M169 525h2M169 585h2M169 608h2M169 615h2M169 627h2M170 244h2M170 273h2M170 283h2M170 286h2M170 287h2M170 292h2M170 300h2M170 307h2M170 309h2M170 311h2M170 316h2M170 317h2M170 320h2M170 323h2M170 325h2M170 326h2M170 327h2M170 328h2M170 329h2M170 330h2M170 331h2M170 332h2M170 335h2M170 336h2M170 337h2M170 338h2M170 339h2M170 341h2M170 346h2M170 348h2M170 350h2M170 352h2M170 353h2M170 354h2M170 355h2M170 356h2M170 357h2M170 360h2M170 361h2M170 362h2M170 363h2M170 365h2M170 366h2M170 367h2M170 368h2M170 372h2M170 373h2M170 374h2M170 375h2M170 377h2M170 379h2M170 381h2M170 382h2M170 385h2M170 386h2M170 387h2M170 390h2M170 391h2M170 397h2M170 399h2M170 402h2M170 404h2M170 406h2M170 408h2M170 411h2M170 412h2M170 413h2M170 419h2M170 420h2M170 421h2M170 424h2M170 428h2M170 429h2M170 430h2M170 434h2M170 449h2M170 453h2M170 458h2M170 459h2M170 465h2M170 480h2M170 494h2M170 496h2M170 501h2M171 307h2M171 310h2M171 312h2M171 314h2M171 315h2M171 316h2M171 317h2M171 318h2M171 319h2M171 321h2M171 324h2M171 325h2M171 326h2M171 328h2M171 329h2M171 330h2M171 332h2M171 338h2M171 341h2M171 344h2M171 345h2M171 348h2M171 349h2M171 350h2M171 351h2M171 352h2M171 354h2M171 357h2M171 358h2M171 359h2M171 360h2M171 361h2M171 362h2M171 363h2M171 364h2M171 365h2M171 366h2M171 368h2M171 369h2M171 370h2M171 372h2M171 373h2M171 375h2M171 376h2M171 377h2M171 378h2M171 379h2M171 380h2M171 381h2M171 382h2M171 384h2M171 385h2M171 387h2M171 388h2M171 389h2M171 390h2M171 391h2M171 393h2M171 394h2M171 395h2M171 396h2M171 398h2M171 399h2M171 400h2M171 404h2M171 407h2M171 410h2M171 412h2M171 416h2M171 417h2M171 419h2M171 423h2M171 424h2M171 425h2M171 428h2M171 431h2M171 434h2M171 438h2M171 439h2M171 440h2M171 443h2M171 446h2M171 451h2M171 461h2M171 470h2M171 479h2M171 497h2M171 532h2M171 567h2M172 304h2M172 305h2M172 309h2M172 310h2M172 311h2M172 312h2M172 314h2M172 315h2M172 316h2M172 318h2M172 323h2M172 324h2M172 325h2M172 328h2M172 329h2M172 330h2M172 331h2M172 334h2M172 335h2M172 337h2M172 340h2M172 341h2M172 342h2M172 343h2M172 344h2M172 345h2M172 348h2M172 349h2M172 350h2M172 351h2M172 353h2M172 354h2M172 355h2M172 357h2M172 358h2M172 359h2M172 361h2M172 363h2M172 365h2M172 367h2M172 368h2M172 372h2M172 378h2M172 380h2M172 382h2M172 385h2M172 386h2M172 387h2M172 389h2M172 391h2M172 393h2M172 394h2M172 398h2M172 399h2M172 401h2M172 403h2M172 405h2M172 408h2M172 409h2M172 410h2M172 412h2M172 413h2M172 418h2M172 420h2M172 421h2M172 426h2M172 451h2M172 487h2M172 561h2M172 563h2M172 603h2M173 293h2M173 303h2M173 306h2M173 308h2M173 309h2M173 311h2M173 313h2M173 315h2M173 316h2M173 318h2M173 319h2M173 320h2M173 321h2M173 322h2M173 323h2M173 325h2M173 326h2M173 327h2M173 328h2M173 331h2M173 332h2M173 333h2M173 335h2M173 336h2M173 337h2M173 338h2M173 339h2M173 341h2M173 342h2M173 344h2M173 346h2M173 347h2M173 348h2M173 349h2M173 350h2M173 351h2M173 353h2M173 354h2M173 355h2M173 357h2M173 358h2M173 360h2M173 361h2M173 362h2M173 363h2M173 364h2M173 365h2M173 367h2M173 368h2M173 369h2M173 370h2M173 371h2M173 372h2M173 373h2M173 374h2M173 375h2M173 377h2M173 379h2M173 381h2M173 383h2M173 384h2M173 386h2M173 387h2M173 390h2M173 391h2M173 394h2M173 396h2M173 399h2M173 400h2M173 401h2M173 403h2M173 415h2M173 422h2M173 424h2M173 425h2M173 430h2M173 431h2M173 437h2M173 456h2M173 469h2M173 486h2M173 488h2M173 492h2M173 497h2M173 498h2M174 288h2M174 307h2M174 308h2M174 309h2M174 311h2M174 315h2M174 318h2M174 319h2M174 320h2M174 323h2M174 324h2M174 325h2M174 326h2M174 327h2M174 329h2M174 332h2M174 333h2M174 334h2M174 335h2M174 341h2M174 342h2M174 348h2M174 349h2M174 350h2M174 351h2M174 353h2M174 354h2M174 355h2M174 357h2M174 358h2M174 361h2M174 362h2M174 363h2M174 366h2M174 367h2M174 368h2M174 370h2M174 371h2M174 372h2M174 373h2M174 375h2M174 377h2M174 379h2M174 381h2M174 384h2M174 387h2M174 388h2M174 389h2M174 397h2M174 399h2M174 401h2M174 407h2M174 411h2M174 412h2M174 416h2M174 418h2M174 423h2M174 426h2M174 427h2M174 428h2M174 433h2M174 434h2M174 462h2M174 482h2M174 496h2M174 501h2M174 518h2M174 529h2M174 532h2M174 542h2M174 556h2M175 297h2M175 300h2M175 313h2M175 315h2M175 318h2M175 319h2M175 320h2M175 321h2M175 322h2M175 327h2M175 330h2M175 331h2M175 332h2M175 334h2M175 336h2M175 339h2M175 340h2M175 343h2M175 344h2M175 347h2M175 348h2M175 349h2M175 350h2M175 353h2M175 354h2M175 356h2M175 358h2M175 359h2M175 361h2M175 362h2M175 363h2M175 364h2M175 365h2M175 366h2M175 368h2M175 369h2M175 370h2M175 374h2M175 377h2M175 379h2M175 381h2M175 385h2M175 387h2M175 388h2M175 392h2M175 394h2M175 395h2M175 397h2M175 398h2M175 400h2M175 403h2M175 406h2M175 409h2M175 411h2M175 413h2M175 415h2M175 416h2M175 418h2M175 423h2M175 455h2M175 460h2M175 481h2M175 487h2M175 504h2M175 540h2M176 297h2M176 305h2M176 306h2M176 310h2M176 311h2M176 312h2M176 313h2M176 316h2M176 319h2M176 320h2M176 321h2M176 322h2M176 325h2M176 326h2M176 329h2M176 330h2M176 331h2M176 332h2M176 333h2M176 334h2M176 336h2M176 337h2M176 338h2M176 339h2M176 340h2M176 341h2M176 342h2M176 345h2M176 350h2M176 351h2M176 352h2M176 353h2M176 354h2M176 355h2M176 356h2M176 358h2M176 359h2M176 361h2M176 362h2M176 364h2M176 365h2M176 367h2M176 368h2M176 369h2M176 371h2M176 372h2M176 373h2M176 378h2M176 379h2M176 380h2M176 381h2M176 383h2M176 384h2M176 390h2M176 397h2M176 405h2M176 408h2M176 409h2M176 411h2M176 416h2M176 417h2M176 425h2M176 431h2M176 432h2M176 434h2M176 439h2M176 441h2M176 450h2M176 455h2M176 456h2M176 473h2M176 478h2M176 546h2M176 598h2M177 298h2M177 309h2M177 311h2M177 313h2M177 319h2M177 322h2M177 323h2M177 324h2M177 325h2M177 327h2M177 328h2M177 332h2M177 336h2M177 338h2M177 339h2M177 341h2M177 342h2M177 347h2M177 348h2M177 349h2M177 350h2M177 351h2M177 353h2M177 354h2M177 355h2M177 356h2M177 357h2M177 358h2M177 359h2M177 361h2M177 362h2M177 364h2M177 365h2M177 366h2M177 367h2M177 370h2M177 371h2M177 372h2M177 373h2M177 374h2M177 375h2M177 378h2M177 379h2M177 380h2M177 381h2M177 384h2M177 385h2M177 386h2M177 394h2M177 396h2M177 397h2M177 409h2M177 411h2M177 417h2M177 419h2M177 420h2M177 423h2M177 431h2M177 464h2M177 479h2M177 491h2M177 497h2M177 544h2M178 256h2M178 300h2M178 301h2M178 307h2M178 312h2M178 317h2M178 319h2M178 321h2M178 323h2M178 324h2M178 326h2M178 328h2M178 331h2M178 332h2M178 335h2M178 336h2M178 337h2M178 340h2M178 344h2M178 347h2M178 349h2M178 350h2M178 351h2M178 352h2M178 353h2M178 354h2M178 355h2M178 356h2M178 358h2M178 359h2M178 361h2M178 362h2M178 363h2M178 364h2M178 365h2M178 366h2M178 367h2M178 368h2M178 369h2M178 370h2M178 371h2M178 372h2M178 375h2M178 377h2M178 385h2M178 386h2M178 393h2M178 395h2M178 399h2M178 406h2M178 411h2M178 412h2M178 418h2M178 425h2M178 427h2M178 430h2M178 431h2M178 436h2M178 437h2M178 438h2M178 445h2M178 469h2M178 489h2M178 524h2M178 545h2M179 295h2M179 311h2M179 312h2M179 313h2M179 315h2M179 318h2M179 320h2M179 321h2M179 323h2M179 332h2M179 333h2M179 336h2M179 338h2M179 339h2M179 341h2M179 342h2M179 345h2M179 346h2M179 347h2M179 348h2M179 350h2M179 351h2M179 352h2M179 353h2M179 354h2M179 355h2M179 356h2M179 357h2M179 359h2M179 360h2M179 362h2M179 364h2M179 365h2M179 367h2M179 368h2M179 369h2M179 370h2M179 372h2M179 373h2M179 374h2M179 375h2M179 376h2M179 378h2M179 379h2M179 382h2M179 383h2M179 385h2M179 388h2M179 389h2M179 390h2M179 393h2M179 394h2M179 400h2M179 404h2M179 409h2M179 410h2M179 412h2M179 413h2M179 417h2M179 428h2M179 450h2M179 452h2M179 470h2M179 488h2M179 491h2M179 493h2M179 546h2M179 577h2M180 303h2M180 305h2M180 315h2M180 317h2M180 318h2M180 319h2M180 323h2M180 324h2M180 325h2M180 326h2M180 327h2M180 328h2M180 329h2M180 331h2M180 332h2M180 334h2M180 335h2M180 336h2M180 338h2M180 339h2M180 341h2M180 342h2M180 347h2M180 348h2M180 349h2M180 352h2M180 353h2M180 355h2M180 356h2M180 357h2M180 358h2M180 359h2M180 360h2M180 362h2M180 363h2M180 364h2M180 365h2M180 367h2M180 373h2M180 377h2M180 378h2M180 379h2M180 380h2M180 381h2M180 383h2M180 384h2M180 385h2M180 386h2M180 387h2M180 388h2M180 390h2M180 393h2M180 395h2M180 398h2M180 401h2M180 405h2M180 409h2M180 413h2M180 414h2M180 415h2M180 416h2M180 427h2M180 428h2M180 432h2M180 435h2M180 442h2M180 480h2M180 566h2M180 567h2M180 597h2M181 237h2M181 300h2M181 303h2M181 310h2M181 316h2M181 318h2M181 321h2M181 322h2M181 323h2M181 324h2M181 326h2M181 328h2M181 330h2M181 333h2M181 334h2M181 335h2M181 336h2M181 338h2M181 339h2M181 342h2M181 343h2M181 345h2M181 346h2M181 349h2M181 350h2M181 351h2M181 352h2M181 354h2M181 355h2M181 357h2M181 358h2M181 359h2M181 360h2M181 361h2M181 362h2M181 363h2M181 364h2M181 365h2M181 367h2M181 369h2M181 374h2M181 375h2M181 376h2M181 378h2M181 381h2M181 382h2M181 385h2M181 386h2M181 387h2M181 390h2M181 391h2M181 393h2M181 399h2M181 400h2M181 403h2M181 404h2M181 405h2M181 406h2M181 409h2M181 410h2M181 420h2M181 423h2M181 425h2M181 427h2M181 433h2M181 440h2M181 441h2M181 447h2M181 448h2M181 452h2M181 454h2M181 464h2M181 465h2M181 474h2M181 513h2M182 276h2M182 317h2M182 318h2M182 319h2M182 321h2M182 323h2M182 326h2M182 328h2M182 330h2M182 334h2M182 336h2M182 337h2M182 339h2M182 341h2M182 343h2M182 345h2M182 346h2M182 347h2M182 348h2M182 349h2M182 350h2M182 351h2M182 352h2M182 353h2M182 354h2M182 355h2M182 356h2M182 358h2M182 359h2M182 360h2M182 363h2M182 364h2M182 366h2M182 367h2M182 370h2M182 372h2M182 374h2M182 379h2M182 382h2M182 384h2M182 385h2M182 386h2M182 391h2M182 393h2M182 394h2M182 395h2M182 398h2M182 400h2M182 407h2M182 412h2M182 416h2M182 447h2M182 448h2M182 457h2M182 478h2M182 497h2M182 560h2M182 562h2M183 296h2M183 312h2M183 316h2M183 317h2M183 326h2M183 328h2M183 330h2M183 331h2M183 333h2M183 334h2M183 338h2M183 343h2M183 344h2M183 345h2M183 346h2M183 347h2M183 348h2M183 349h2M183 350h2M183 351h2M183 352h2M183 353h2M183 354h2M183 355h2M183 357h2M183 359h2M183 360h2M183 361h2M183 362h2M183 363h2M183 365h2M183 368h2M183 369h2M183 371h2M183 372h2M183 373h2M183 374h2M183 375h2M183 378h2M183 379h2M183 384h2M183 386h2M183 391h2M183 392h2M183 395h2M183 398h2M183 399h2M183 400h2M183 401h2M183 405h2M183 406h2M183 410h2M183 411h2M183 418h2M183 420h2M183 424h2M183 427h2M183 443h2M183 586h2M184 315h2M184 317h2M184 319h2M184 322h2M184 326h2M184 328h2M184 330h2M184 332h2M184 333h2M184 334h2M184 335h2M184 336h2M184 338h2M184 339h2M184 340h2M184 341h2M184 342h2M184 344h2M184 345h2M184 346h2M184 347h2M184 348h2M184 349h2M184 350h2M184 351h2M184 352h2M184 353h2M184 354h2M184 355h2M184 356h2M184 357h2M184 358h2M184 359h2M184 360h2M184 361h2M184 362h2M184 363h2M184 366h2M184 367h2M184 368h2M184 369h2M184 373h2M184 374h2M184 376h2M184 377h2M184 383h2M184 385h2M184 387h2M184 388h2M184 393h2M184 394h2M184 396h2M184 403h2M184 412h2M184 417h2M184 423h2M184 432h2M184 433h2M184 434h2M184 442h2M184 443h2M184 458h2M184 479h2M184 487h2M184 490h2M184 514h2M184 577h2M185 302h2M185 315h2M185 319h2M185 322h2M185 325h2M185 328h2M185 331h2M185 332h2M185 333h2M185 334h2M185 336h2M185 337h2M185 338h2M185 340h2M185 344h2M185 345h2M185 346h2M185 348h2M185 350h2M185 351h2M185 352h2M185 354h2M185 357h2M185 358h2M185 360h2M185 361h2M185 362h2M185 363h2M185 364h2M185 366h2M185 367h2M185 369h2M185 372h2M185 373h2M185 377h2M185 380h2M185 383h2M185 385h2M185 389h2M185 390h2M185 392h2M185 403h2M185 406h2M185 409h2M185 413h2M185 415h2M185 424h2M185 434h2M185 440h2M185 443h2M185 448h2M185 454h2M185 477h2M185 483h2M185 495h2M185 523h2M186 282h2M186 309h2M186 322h2M186 325h2M186 327h2M186 328h2M186 329h2M186 330h2M186 331h2M186 332h2M186 333h2M186 335h2M186 337h2M186 340h2M186 341h2M186 342h2M186 343h2M186 344h2M186 349h2M186 350h2M186 352h2M186 355h2M186 356h2M186 358h2M186 361h2M186 362h2M186 363h2M186 365h2M186 366h2M186 368h2M186 372h2M186 373h2M186 376h2M186 381h2M186 391h2M186 395h2M186 397h2M186 398h2M186 399h2M186 403h2M186 415h2M186 427h2M186 432h2M186 435h2M186 449h2M186 487h2M186 500h2M186 503h2M187 291h2M187 297h2M187 314h2M187 316h2M187 320h2M187 321h2M187 322h2M187 325h2M187 326h2M187 328h2M187 329h2M187 330h2M187 331h2M187 332h2M187 335h2M187 336h2M187 338h2M187 342h2M187 343h2M187 344h2M187 345h2M187 347h2M187 349h2M187 350h2M187 352h2M187 353h2M187 355h2M187 356h2M187 358h2M187 359h2M187 362h2M187 363h2M187 364h2M187 365h2M187 366h2M187 368h2M187 370h2M187 375h2M187 377h2M187 379h2M187 380h2M187 382h2M187 384h2M187 391h2M187 395h2M187 396h2M187 400h2M187 403h2M187 405h2M187 412h2M187 419h2M187 425h2M187 427h2M187 473h2M187 479h2M187 500h2M187 549h2M187 562h2M188 292h2M188 301h2M188 308h2M188 309h2M188 316h2M188 318h2M188 322h2M188 323h2M188 324h2M188 326h2M188 327h2M188 328h2M188 329h2M188 330h2M188 336h2M188 337h2M188 338h2M188 342h2M188 343h2M188 345h2M188 348h2M188 349h2M188 350h2M188 351h2M188 352h2M188 353h2M188 354h2M188 355h2M188 356h2M188 357h2M188 358h2M188 362h2M188 364h2M188 366h2M188 368h2M188 370h2M188 371h2M188 372h2M188 373h2M188 374h2M188 375h2M188 378h2M188 379h2M188 380h2M188 387h2M188 388h2M188 391h2M188 407h2M188 413h2M188 423h2M188 430h2M188 438h2M188 450h2M188 453h2M188 461h2M188 469h2M188 495h2M189 295h2M189 297h2M189 301h2M189 310h2M189 317h2M189 320h2M189 321h2M189 323h2M189 325h2M189 329h2M189 330h2M189 333h2M189 335h2M189 336h2M189 337h2M189 340h2M189 341h2M189 342h2M189 343h2M189 346h2M189 347h2M189 349h2M189 350h2M189 351h2M189 352h2M189 354h2M189 355h2M189 356h2M189 357h2M189 358h2M189 359h2M189 360h2M189 361h2M189 363h2M189 364h2M189 366h2M189 367h2M189 368h2M189 369h2M189 370h2M189 372h2M189 376h2M189 380h2M189 383h2M189 390h2M189 391h2M189 392h2M189 398h2M189 404h2M189 405h2M189 409h2M189 416h2M189 430h2M189 432h2M189 433h2M189 445h2M189 450h2M189 453h2M189 463h2M190 294h2M190 316h2M190 319h2M190 320h2M190 323h2M190 324h2M190 325h2M190 334h2M190 336h2M190 338h2M190 339h2M190 342h2M190 344h2M190 347h2M190 348h2M190 349h2M190 350h2M190 351h2M190 352h2M190 357h2M190 358h2M190 359h2M190 360h2M190 362h2M190 363h2M190 364h2M190 366h2M190 369h2M190 370h2M190 374h2M190 378h2M190 380h2M190 390h2M190 392h2M190 396h2M190 400h2M190 408h2M190 411h2M190 421h2M190 430h2M190 435h2M190 451h2M190 454h2M190 499h2M191 274h2M191 301h2M191 309h2M191 316h2M191 324h2M191 327h2M191 330h2M191 333h2M191 336h2M191 337h2M191 339h2M191 341h2M191 343h2M191 344h2M191 345h2M191 347h2M191 348h2M191 349h2M191 352h2M191 353h2M191 354h2M191 355h2M191 356h2M191 357h2M191 358h2M191 359h2M191 360h2M191 364h2M191 368h2M191 372h2M191 373h2M191 377h2M191 380h2M191 382h2M191 387h2M191 391h2M191 392h2M191 393h2M191 394h2M191 399h2M191 403h2M191 407h2M191 416h2M191 420h2M191 430h2M192 303h2M192 315h2M192 323h2M192 327h2M192 328h2M192 329h2M192 331h2M192 335h2M192 336h2M192 337h2M192 340h2M192 342h2M192 344h2M192 346h2M192 350h2M192 352h2M192 353h2M192 354h2M192 355h2M192 356h2M192 357h2M192 359h2M192 360h2M192 364h2M192 367h2M192 369h2M192 370h2M192 373h2M192 375h2M192 377h2M192 380h2M192 381h2M192 383h2M192 384h2M192 385h2M192 386h2M192 393h2M192 402h2M192 406h2M192 428h2M192 441h2M193 305h2M193 307h2M193 325h2M193 327h2M193 328h2M193 330h2M193 331h2M193 332h2M193 333h2M193 334h2M193 336h2M193 338h2M193 340h2M193 341h2M193 342h2M193 344h2M193 346h2M193 347h2M193 348h2M193 349h2M193 350h2M193 351h2M193 353h2M193 355h2M193 357h2M193 358h2M193 361h2M193 363h2M193 364h2M193 366h2M193 367h2M193 368h2M193 370h2M193 372h2M193 374h2M193 375h2M193 376h2M193 377h2M193 379h2M193 382h2M193 385h2M193 387h2M193 390h2M193 396h2M193 400h2M193 401h2M193 407h2M193 411h2M193 471h2M193 475h2M193 505h2M194 315h2M194 319h2M194 320h2M194 321h2M194 323h2M194 324h2M194 326h2M194 327h2M194 330h2M194 331h2M194 334h2M194 336h2M194 337h2M194 339h2M194 341h2M194 343h2M194 348h2M194 349h2M194 353h2M194 354h2M194 356h2M194 357h2M194 358h2M194 359h2M194 361h2M194 365h2M194 368h2M194 377h2M194 379h2M194 380h2M194 381h2M194 385h2M194 386h2M194 388h2M194 392h2M194 393h2M194 400h2M194 419h2M194 427h2M194 443h2M194 446h2M194 452h2M194 478h2M194 481h2M194 543h2M195 309h2M195 311h2M195 316h2M195 320h2M195 322h2M195 325h2M195 329h2M195 330h2M195 331h2M195 332h2M195 334h2M195 335h2M195 337h2M195 338h2M195 340h2M195 341h2M195 343h2M195 344h2M195 345h2M195 347h2M195 348h2M195 349h2M195 350h2M195 352h2M195 353h2M195 354h2M195 355h2M195 356h2M195 359h2M195 360h2M195 363h2M195 364h2M195 366h2M195 368h2M195 370h2M195 373h2M195 374h2M195 377h2M195 378h2M195 379h2M195 383h2M195 389h2M195 391h2M195 398h2M195 402h2M195 404h2M195 406h2M195 411h2M195 415h2M195 416h2M195 422h2M195 423h2M195 430h2M195 433h2M195 484h2M195 490h2M196 293h2M196 313h2M196 327h2M196 330h2M196 332h2M196 333h2M196 336h2M196 337h2M196 338h2M196 340h2M196 341h2M196 343h2M196 344h2M196 345h2M196 348h2M196 349h2M196 350h2M196 351h2M196 353h2M196 355h2M196 356h2M196 358h2M196 359h2M196 361h2M196 362h2M196 363h2M196 365h2M196 366h2M196 367h2M196 368h2M196 369h2M196 370h2M196 372h2M196 374h2M196 379h2M196 383h2M196 385h2M196 387h2M196 388h2M196 391h2M196 392h2M196 393h2M196 398h2M196 405h2M196 408h2M196 423h2M196 436h2M196 438h2M196 514h2M197 310h2M197 321h2M197 322h2M197 325h2M197 328h2M197 330h2M197 331h2M197 333h2M197 334h2M197 336h2M197 337h2M197 339h2M197 341h2M197 342h2M197 345h2M197 346h2M197 349h2M197 350h2M197 353h2M197 356h2M197 357h2M197 359h2M197 360h2M197 362h2M197 367h2M197 369h2M197 371h2M197 375h2M197 377h2M197 392h2M197 395h2M197 402h2M197 413h2M197 420h2M197 427h2M197 441h2M197 453h2M197 461h2M197 468h2M197 484h2M198 290h2M198 304h2M198 312h2M198 317h2M198 324h2M198 325h2M198 326h2M198 328h2M198 331h2M198 332h2M198 333h2M198 334h2M198 336h2M198 338h2M198 339h2M198 340h2M198 341h2M198 342h2M198 343h2M198 344h2M198 346h2M198 347h2M198 357h2M198 358h2M198 360h2M198 362h2M198 363h2M198 364h2M198 367h2M198 369h2M198 370h2M198 371h2M198 376h2M198 378h2M198 379h2M198 384h2M198 388h2M198 397h2M198 398h2M198 414h2M198 417h2M198 422h2M198 428h2M198 429h2M198 434h2M198 454h2M198 516h2M199 321h2M199 323h2M199 325h2M199 329h2M199 330h2M199 334h2M199 338h2M199 340h2M199 341h2M199 345h2M199 346h2M199 347h2M199 348h2M199 349h2M199 351h2M199 352h2M199 354h2M199 355h2M199 356h2M199 357h2M199 359h2M199 360h2M199 362h2M199 363h2M199 366h2M199 367h2M199 368h2M199 369h2M199 374h2M199 375h2M199 376h2M199 377h2M199 380h2M199 382h2M199 383h2M199 384h2M199 386h2M199 391h2M199 395h2M199 404h2M199 411h2M199 420h2M199 426h2M199 461h2M200 315h2M200 317h2M200 323h2M200 324h2M200 325h2M200 327h2M200 329h2M200 331h2M200 332h2M200 333h2M200 337h2M200 339h2M200 342h2M200 343h2M200 344h2M200 346h2M200 347h2M200 349h2M200 350h2M200 351h2M200 352h2M200 353h2M200 355h2M200 356h2M200 357h2M200 358h2M200 369h2M200 373h2M200 374h2M200 376h2M200 377h2M200 385h2M200 389h2M200 398h2M200 413h2M200 415h2M200 440h2M200 544h2M201 319h2M201 320h2M201 323h2M201 324h2M201 325h2M201 328h2M201 330h2M201 331h2M201 333h2M201 334h2M201 336h2M201 338h2M201 340h2M201 346h2M201 348h2M201 349h2M201 350h2M201 351h2M201 352h2M201 353h2M201 355h2M201 356h2M201 358h2M201 361h2M201 362h2M201 364h2M201 365h2M201 366h2M201 369h2M201 370h2M201 371h2M201 379h2M201 387h2M201 388h2M201 396h2M201 398h2M201 400h2M201 423h2M201 424h2M202 277h2M202 308h2M202 316h2M202 320h2M202 324h2M202 327h2M202 328h2M202 329h2M202 331h2M202 332h2M202 333h2M202 334h2M202 336h2M202 337h2M202 339h2M202 341h2M202 345h2M202 346h2M202 348h2M202 350h2M202 351h2M202 353h2M202 355h2M202 359h2M202 361h2M202 362h2M202 373h2M202 374h2M202 376h2M202 377h2M202 378h2M202 380h2M202 382h2M202 383h2M202 385h2M202 388h2M202 391h2M202 403h2M202 405h2M202 428h2M202 440h2M202 463h2M203 296h2M203 314h2M203 316h2M203 322h2M203 323h2M203 328h2M203 330h2M203 332h2M203 333h2M203 335h2M203 339h2M203 341h2M203 343h2M203 344h2M203 345h2M203 346h2M203 347h2M203 348h2M203 349h2M203 352h2M203 354h2M203 355h2M203 361h2M203 363h2M203 364h2M203 365h2M203 369h2M203 370h2M203 371h2M203 375h2M203 377h2M203 379h2M203 380h2M203 381h2M203 383h2M203 384h2M203 388h2M203 390h2M203 399h2M203 405h2M203 411h2M203 412h2M203 416h2M203 428h2M204 314h2M204 321h2M204 322h2M204 326h2M204 334h2M204 335h2M204 336h2M204 337h2M204 338h2M204 339h2M204 340h2M204 341h2M204 342h2M204 343h2M204 347h2M204 348h2M204 350h2M204 352h2M204 353h2M204 355h2M204 356h2M204 358h2M204 361h2M204 362h2M204 363h2M204 364h2M204 368h2M204 371h2M204 372h2M204 374h2M204 376h2M204 395h2M204 411h2M204 467h2M204 501h2M205 317h2M205 325h2M205 327h2M205 329h2M205 330h2M205 331h2M205 333h2M205 334h2M205 337h2M205 341h2M205 342h2M205 343h2M205 344h2M205 348h2M205 349h2M205 351h2M205 352h2M205 353h2M205 354h2M205 355h2M205 356h2M205 357h2M205 358h2M205 359h2M205 361h2M205 362h2M205 365h2M205 366h2M205 368h2M205 369h2M205 371h2M205 374h2M205 378h2M205 380h2M205 381h2M205 385h2M205 386h2M205 390h2M205 394h2M205 399h2M205 404h2M206 315h2M206 320h2M206 324h2M206 325h2M206 331h2M206 332h2M206 334h2M206 336h2M206 342h2M206 343h2M206 344h2M206 348h2M206 351h2M206 352h2M206 353h2M206 354h2M206 356h2M206 359h2M206 361h2M206 362h2M206 363h2M206 364h2M206 370h2M206 371h2M206 372h2M206 373h2M206 378h2M206 389h2M206 390h2M207 308h2M207 309h2M207 317h2M207 323h2M207 325h2M207 326h2M207 331h2M207 336h2M207 338h2M207 340h2M207 348h2M207 349h2M207 350h2M207 351h2M207 352h2M207 354h2M207 355h2M207 356h2M207 357h2M207 359h2M207 361h2M207 364h2M207 365h2M207 368h2M207 371h2M207 379h2M207 380h2M207 384h2M207 385h2M207 408h2M207 478h2M208 258h2M208 279h2M208 310h2M208 312h2M208 319h2M208 320h2M208 328h2M208 330h2M208 331h2M208 342h2M208 344h2M208 345h2M208 349h2M208 351h2M208 352h2M208 353h2M208 354h2M208 356h2M208 357h2M208 360h2M208 361h2M208 362h2M208 363h2M208 364h2M208 365h2M208 366h2M208 370h2M208 372h2M208 375h2M208 377h2M208 382h2M208 389h2M208 390h2M208 398h2M208 400h2M208 410h2M208 424h2M209 316h2M209 323h2M209 326h2M209 333h2M209 335h2M209 337h2M209 341h2M209 344h2M209 346h2M209 347h2M209 351h2M209 356h2M209 361h2M209 363h2M209 364h2M209 372h2M209 376h2M209 379h2M209 383h2M209 386h2M209 387h2M209 452h2M210 260h2M210 293h2M210 312h2M210 324h2M210 327h2M210 330h2M210 331h2M210 332h2M210 335h2M210 336h2M210 340h2M210 341h2M210 343h2M210 346h2M210 348h2M210 349h2M210 350h2M210 351h2M210 352h2M210 353h2M210 359h2M210 360h2M210 376h2M210 379h2M210 394h2M210 398h2M210 424h2M210 475h2M211 321h2M211 325h2M211 327h2M211 329h2M211 330h2M211 332h2M211 333h2M211 335h2M211 339h2M211 340h2M211 344h2M211 347h2M211 349h2M211 350h2M211 351h2M211 352h2M211 353h2M211 355h2M211 356h2M211 357h2M211 360h2M211 364h2M211 371h2M211 376h2M211 388h2M211 391h2M211 399h2M212 311h2M212 315h2M212 316h2M212 325h2M212 329h2M212 331h2M212 337h2M212 338h2M212 341h2M212 344h2M212 347h2M212 348h2M212 349h2M212 350h2M212 351h2M212 353h2M212 355h2M212 356h2M212 358h2M212 359h2M212 360h2M212 361h2M212 362h2M212 367h2M212 368h2M212 372h2M212 376h2M212 377h2M212 381h2M212 385h2M212 393h2M212 394h2M213 326h2M213 328h2M213 331h2M213 336h2M213 338h2M213 339h2M213 340h2M213 345h2M213 348h2M213 350h2M213 351h2M213 354h2M213 355h2M213 356h2M213 360h2M213 364h2M213 370h2M213 380h2M213 401h2M213 421h2M214 316h2M214 319h2M214 325h2M214 326h2M214 327h2M214 328h2M214 330h2M214 333h2M214 339h2M214 340h2M214 341h2M214 343h2M214 346h2M214 348h2M214 349h2M214 350h2M214 352h2M214 355h2M214 358h2M214 359h2M214 365h2M214 366h2M214 369h2M214 371h2M214 374h2M214 375h2M214 376h2M214 377h2M214 379h2M214 392h2M214 398h2M214 460h2M215 322h2M215 325h2M215 327h2M215 328h2M215 334h2M215 336h2M215 338h2M215 340h2M215 342h2M215 343h2M215 346h2M215 347h2M215 348h2M215 350h2M215 351h2M215 353h2M215 354h2M215 362h2M215 365h2M215 366h2M215 367h2M215 370h2M215 373h2M215 382h2M215 383h2M215 392h2M215 404h2M215 408h2M215 410h2M215 411h2M215 441h2M216 311h2M216 314h2M216 319h2M216 330h2M216 332h2M216 335h2M216 338h2M216 339h2M216 342h2M216 346h2M216 348h2M216 350h2M216 351h2M216 352h2M216 354h2M216 355h2M216 357h2M216 358h2M216 367h2M216 372h2M216 373h2M216 425h2M216 436h2M217 312h2M217 327h2M217 330h2M217 334h2M217 339h2M217 340h2M217 346h2M217 349h2M217 352h2M217 362h2M217 368h2M217 377h2M217 391h2M218 299h2M218 310h2M218 316h2M218 319h2M218 322h2M218 327h2M218 328h2M218 330h2M218 331h2M218 334h2M218 335h2M218 337h2M218 338h2M218 340h2M218 341h2M218 342h2M218 345h2M218 348h2M218 349h2M218 350h2M218 351h2M218 353h2M218 354h2M218 357h2M218 358h2M218 362h2M218 364h2M218 372h2M218 373h2M218 378h2M218 381h2M219 314h2M219 315h2M219 319h2M219 322h2M219 323h2M219 327h2M219 328h2M219 329h2M219 333h2M219 335h2M219 336h2M219 338h2M219 339h2M219 340h2M219 343h2M219 347h2M219 348h2M219 350h2M219 351h2M219 352h2M219 359h2M219 367h2M219 370h2M219 380h2M219 383h2M219 391h2M219 519h2M220 317h2M220 320h2M220 323h2M220 328h2M220 336h2M220 340h2M220 343h2M220 345h2M220 350h2M220 352h2M220 353h2M220 356h2M220 357h2M220 362h2M220 365h2M220 425h2M221 312h2M221 314h2M221 321h2M221 325h2M221 326h2M221 328h2M221 341h2M221 343h2M221 344h2M221 349h2M221 352h2M221 354h2M221 356h2M221 357h2M221 362h2M221 366h2M221 369h2M221 383h2M221 388h2M221 398h2M221 405h2M222 307h2M222 309h2M222 320h2M222 330h2M222 331h2M222 333h2M222 337h2M222 340h2M222 341h2M222 342h2M222 346h2M222 349h2M222 356h2M222 369h2M222 381h2M222 386h2M223 326h2M223 327h2M223 328h2M223 330h2M223 333h2M223 336h2M223 339h2M223 346h2M223 348h2M223 349h2M223 352h2M223 353h2M223 355h2M223 362h2M223 363h2M223 365h2M223 366h2M223 368h2M223 370h2M223 375h2M223 381h2M223 436h2M224 325h2M224 326h2M224 330h2M224 332h2M224 342h2M224 348h2M224 352h2M224 355h2M224 356h2M224 360h2M224 361h2M224 363h2M224 365h2M224 371h2M225 312h2M225 315h2M225 325h2M225 330h2M225 331h2M225 332h2M225 333h2M225 339h2M225 340h2M225 345h2M225 346h2M225 347h2M225 348h2M225 351h2M225 354h2M225 355h2M225 356h2M225 357h2M225 358h2M225 360h2M226 325h2M226 326h2M226 329h2M226 333h2M226 335h2M226 337h2M226 339h2M226 340h2M226 341h2M226 342h2M226 344h2M226 345h2M226 348h2M226 349h2M226 350h2M226 352h2M226 353h2M226 354h2M226 357h2M226 358h2M226 359h2M226 369h2M227 310h2M227 323h2M227 328h2M227 329h2M227 330h2M227 342h2M227 347h2M227 348h2M227 349h2M227 355h2M227 373h2M228 314h2M228 322h2M228 329h2M228 333h2M228 338h2M228 345h2M228 348h2M228 349h2M228 350h2M228 357h2M228 358h2M228 359h2M228 362h2M228 366h2M228 399h2M228 412h2M229 312h2M229 321h2M229 322h2M229 327h2M229 331h2M229 332h2M229 339h2M229 340h2M229 344h2M229 345h2M229 347h2M229 348h2M229 351h2M229 352h2M229 355h2M229 357h2M229 358h2M230 312h2M230 319h2M230 325h2M230 328h2M230 335h2M230 338h2M230 347h2M230 348h2M230 351h2M230 353h2M230 358h2M230 362h2M231 321h2M231 329h2M231 331h2M231 337h2M231 339h2M231 341h2M231 342h2M231 343h2M231 355h2M231 364h2M231 370h2M231 414h2M232 316h2M232 318h2M232 320h2M232 327h2M232 333h2M232 336h2M232 338h2M232 339h2M232 347h2M232 348h2M232 355h2M232 358h2M232 366h2M232 443h2M233 315h2M233 317h2M233 325h2M233 327h2M233 331h2M233 334h2M233 339h2M233 348h2M233 349h2M233 352h2M233 354h2M233 356h2M233 361h2M233 385h2M234 310h2M234 327h2M234 328h2M234 329h2M234 330h2M234 334h2M234 340h2M234 346h2M234 347h2M234 350h2M234 352h2M234 358h2M234 362h2M234 365h2M234 376h2M235 322h2M235 326h2M235 328h2M235 329h2M235 332h2M235 335h2M235 336h2M235 338h2M235 339h2M235 345h2M235 348h2M235 351h2M235 358h2M235 381h2M236 295h2M236 317h2M236 326h2M236 329h2M236 332h2M236 335h2M236 339h2M236 341h2M236 345h2M236 350h2M236 351h2M236 352h2M236 356h2M236 357h2M236 434h2M237 318h2M237 331h2M237 334h2M237 338h2M237 339h2M237 345h2M237 346h2M237 347h2M237 349h2M237 352h2M237 353h2M237 358h2M238 307h2M238 323h2M238 324h2M238 327h2M238 328h2M238 331h2M238 336h2M238 345h2M238 348h2M238 355h2M238 357h2M238 359h2M239 312h2M239 330h2M239 335h2M239 337h2M239 341h2M239 345h2M239 346h2M239 348h2M239 352h2M239 359h2M239 438h2M240 284h2M240 323h2M240 324h2M240 325h2M240 331h2M240 334h2M240 336h2M240 342h2M240 344h2M240 349h2M240 368h2M240 397h2M241 321h2M241 328h2M241 329h2M241 330h2M241 334h2M241 337h2M241 345h2M241 346h2M241 347h2M241 351h2M241 353h2M241 372h2M242 305h2M242 339h2M242 342h2M242 343h2M242 344h2M242 346h2M242 352h2M243 277h2M243 327h2M243 330h2M243 332h2M243 337h2M243 340h2M243 348h2M243 353h2M243 355h2M243 357h2M243 454h2M244 317h2M244 330h2M244 334h2M244 342h2M244 343h2M244 346h2M244 350h2M244 426h2M244 447h2M245 331h2M245 333h2M245 334h2M245 337h2M245 339h2M245 340h2M245 344h2M245 346h2M245 348h2M245 350h2M245 352h2M245 357h2M245 376h2M245 384h2M246 306h2M246 322h2M246 330h2M246 335h2M246 337h2M246 340h2M246 345h2M246 347h2M246 348h2M246 349h2M247 322h2M247 330h2M247 332h2M247 335h2M247 336h2M247 344h2M247 346h2M247 347h2M247 349h2M248 313h2M248 321h2M248 323h2M248 331h2M248 332h2M248 336h2M248 337h2M248 341h2M248 349h2M248 350h2M249 328h2M249 334h2M249 336h2M249 342h2M249 348h2M249 352h2M249 356h2M250 323h2M250 324h2M250 327h2M250 331h2M250 333h2M250 337h2M250 338h2M250 339h2M250 340h2M250 348h2M251 322h2M251 324h2M251 328h2M251 333h2M251 336h2M251 346h2M252 321h2M252 325h2M252 326h2M252 331h2M252 333h2M252 345h2M252 346h2M252 347h2M252 350h2M252 358h2M253 312h2M253 326h2M253 330h2M253 335h2M253 342h2M253 350h2M254 322h2M254 327h2M254 328h2M254 331h2M254 332h2M254 333h2M254 334h2M254 341h2M254 344h2M254 346h2M254 347h2M254 348h2M254 360h2M254 463h2M255 331h2M255 337h2M255 340h2M255 341h2M255 352h2M255 353h2M255 357h2M256 321h2M256 326h2M256 327h2M256 337h2M256 342h2M256 343h2M256 344h2M256 356h2M256 392h2M257 319h2M257 332h2M257 334h2M257 336h2M257 337h2M257 339h2M257 340h2M257 355h2M258 318h2M258 323h2M258 333h2M258 335h2M258 340h2M258 341h2M258 345h2M258 346h2M258 459h2M259 333h2M259 336h2M259 340h2M259 342h2M259 344h2M259 353h2M259 431h2M260 316h2M260 332h2M260 334h2M260 338h2M260 469h2M261 327h2M261 340h2M261 364h2M261 446h2M262 321h2M262 328h2M262 337h2M262 338h2M262 339h2M262 346h2M262 347h2M262 452h2M263 330h2M263 332h2M263 339h2M263 351h2M264 326h2M264 331h2M264 333h2M264 336h2M264 341h2M264 346h2M264 349h2M265 333h2M265 335h2M265 343h2M265 350h2M265 353h2M265 462h2M265 595h2M266 323h2M266 332h2M266 333h2M266 334h2M266 336h2M266 342h2M266 347h2M267 322h2M267 323h2M267 328h2M267 333h2M267 341h2M267 368h2M268 323h2M268 326h2M268 336h2M268 337h2M268 338h2M268 342h2M268 345h2M268 349h2M268 438h2M268 468h2M269 327h2M269 333h2M269 337h2M269 338h2M270 338h2M270 342h2M270 346h2M270 348h2M270 361h2M270 453h2M271 332h2M272 335h2M272 336h2M273 335h2M273 338h2M273 339h2M273 341h2M273 344h2M273 351h2M273 471h2M274 325h2M274 334h2M274 339h2M274 345h2M274 368h2M274 372h2M274 454h2M274 458h2M275 335h2M275 337h2M275 341h2M275 343h2M275 365h2M276 333h2M276 345h2M276 354h2M277 334h2M277 336h2M277 337h2M277 340h2M278 332h2M278 338h2M278 342h2M278 345h2M278 346h2M278 348h2M278 422h2M279 326h2M279 336h2M279 480h2M280 326h2M280 330h2M280 333h2M280 337h2M280 338h2M280 340h2M280 344h2M280 349h2M280 463h2M281 338h2M282 328h2M282 339h2M282 344h2M282 346h2M282 348h2M282 350h2M283 333h2M283 340h2M283 352h2M284 330h2M284 336h2M284 342h2M284 343h2M284 411h2M285 334h2M285 340h2M285 341h2M285 342h2M285 343h2M285 344h2M286 336h2M286 341h2M287 326h2M287 331h2M287 332h2M287 334h2M287 342h2M288 331h2M288 334h2M288 342h2M288 344h2M288 434h2M289 325h2M289 334h2M289 336h2M289 338h2M289 349h2M289 360h2M291 330h2M291 339h2M291 344h2M292 334h2M293 326h2M293 336h2M293 344h2M294 326h2M294 333h2M294 343h2M295 334h2M296 440h2M297 334h2M297 335h2M297 337h2M297 342h2M297 345h2M298 387h2M299 335h2M299 421h2M299 455h2M299 460h2M300 340h2M300 341h2M300 479h2M301 341h2M302 335h2M302 351h2M303 334h2M303 337h2M303 351h2M304 337h2M304 339h2M304 344h2M305 339h2M306 314h2M306 340h2M307 334h2M307 337h2M307 339h2M307 341h2M307 345h2M308 331h2M308 336h2M308 339h2M308 347h2M309 334h2M309 340h2M309 344h2M310 335h2M310 347h2M311 339h2M311 346h2M312 336h2M312 460h2M313 335h2M313 338h2M313 339h2M313 344h2M314 328h2M314 332h2M314 335h2M314 343h2M314 364h2M316 331h2M316 338h2M316 340h2M317 338h2M317 343h2M318 334h2M319 334h2M319 342h2M319 344h2M319 451h2M320 331h2M320 337h2M320 342h2M321 328h2M321 332h2M321 333h2M321 335h2M321 336h2M322 331h2M322 335h2M324 334h2M324 452h2M325 338h2M325 341h2M326 336h2M326 345h2M327 337h2M327 339h2M327 344h2M328 331h2M328 335h2M329 330h2M330 336h2M330 386h2M331 329h2M331 339h2M332 337h2M332 341h2M332 358h2M334 330h2M336 336h2M336 347h2M338 340h2M338 343h2M342 392h2M344 333h2M345 338h2M346 335h2M346 338h2M351 344h2M355 332h2M356 342h2M357 338h2M357 340h2M360 336h2M367 336h2M368 338h2M370 311h2M370 337h2M370 339h2M372 335h2M376 297h2M385 339h2M387 333h2M387 335h2M389 336h2M390 333h2M390 336h2M393 327h2M396 337h2M400 333h2M400 346h2M402 338h2M406 338h2M416 332h2M419 333h2M421 341h2M427 344h2M429 335h2M429 341h2M434 337h2M449 332h2M464 337h2M474 340h2M480 338h2" stroke="#000" stroke-width="2" fill="none"/>
<path d="M70 125.5h2M70 133.5h2M70 144.5h2M70 165.5h2M70 174.5h2M70 263.5h2M70 313.5h2M70 370.5h2M70 388.5h2M70 601.5h2M74 80.5h2M74 106.5h2M74 127.5h2M74 159.5h2M74 278.5h2M74 287.5h2M74 306.5h2M74 316.5h2M78 111.5h2M78 150.5h2M78 157.5h2M78 161.5h2M78 172.5h2M78 180.5h2M78 193.5h2M78 207.5h2M78 235.5h2M78 241.5h2M78 291.5h2M78 319.5h2M78 367.5h2M78 436.5h2M78 523.5h2M82 123.5h2M82 152.5h2M82 159.5h2M82 162.5h2M82 166.5h2M82 173.5h2M82 193.5h2M82 210.5h2M82 225.5h2M82 230.5h2M82 235.5h2M82 241.5h2M82 253.5h2M82 287.5h2M82 501.5h2M86 143.5h2M86 146.5h2M86 177.5h2M86 200.5h2M86 299.5h2M86 315.5h2M86 324.5h2M86 333.5h2M86 391.5h2M86 421.5h2M86 440.5h2M86 484.5h2M89 138.5h2M89 171.5h2M89 174.5h2M89 188.5h2M89 199.5h2M89 210.5h2M89 215.5h2M89 228.5h2M89 295.5h2M89 317.5h2M89 450.5h2M92 188.5h2M92 191.5h2M92 205.5h2M92 209.5h2M92 233.5h2M92 237.5h2M92 242.5h2M92 267.5h2M92 327.5h2M92 398.5h2M92 481.5h2M92 504.5h2M94 162.5h2M94 187.5h2M94 207.5h2M94 211.5h2M94 214.5h2M94 218.5h2M94 226.5h2M94 234.5h2M94 251.5h2M94 266.5h2M94 294.5h2M94 300.5h2M94 336.5h2M94 363.5h2M94 451.5h2M94 470.5h2M94 542.5h2M97 206.5h2M97 209.5h2M97 251.5h2M97 297.5h2M97 323.5h2M97 337.5h2M97 345.5h2M97 382.5h2M97 404.5h2M97 444.5h2M97 499.5h2M100 142.5h2M100 169.5h2M100 182.5h2M100 196.5h2M100 199.5h2M100 208.5h2M100 211.5h2M100 217.5h2M100 243.5h2M100 259.5h2M100 264.5h2M100 299.5h2M100 380.5h2M100 400.5h2M100 559.5h2M102 150.5h2M102 156.5h2M102 184.5h2M102 201.5h2M102 204.5h2M102 219.5h2M102 225.5h2M102 243.5h2M102 251.5h2M102 259.5h2M102 286.5h2M102 296.5h2M102 319.5h2M102 370.5h2M102 398.5h2M102 408.5h2M102 476.5h2M104 192.5h2M104 208.5h2M104 211.5h2M104 217.5h2M104 220.5h2M104 223.5h2M104 233.5h2M104 240.5h2M104 243.5h2M104 247.5h2M104 275.5h2M104 289.5h2M104 294.5h2M104 299.5h2M104 309.5h2M104 395.5h2M104 427.5h2M106 207.5h2M106 212.5h2M106 237.5h2M106 254.5h2M106 278.5h2M106 306.5h2M106 322.5h2M106 340.5h2M106 347.5h2M106 376.5h2M106 447.5h2M106 460.5h2M106 616.5h2M108 138.5h2M108 149.5h2M108 194.5h2M108 211.5h2M108 228.5h2M108 254.5h2M108 257.5h2M108 280.5h2M108 285.5h2M108 289.5h2M108 298.5h2M108 303.5h2M108 318.5h2M108 335.5h2M108 341.5h2M108 360.5h2M108 391.5h2M108 419.5h2M108 516.5h2M108 560.5h2M108 588.5h2M108 623.5h2M110 247.5h2M110 264.5h2M110 324.5h2M110 330.5h2M110 335.5h2M110 367.5h2M110 426.5h2M110 436.5h2M110 474.5h2M110 504.5h2M110 595.5h2M112 195.5h2M112 235.5h2M112 289.5h2M112 302.5h2M112 320.5h2M112 342.5h2M112 413.5h2M112 443.5h2M112 454.5h2M112 601.5h2M114 225.5h2M114 241.5h2M114 250.5h2M114 266.5h2M114 269.5h2M114 273.5h2M114 283.5h2M114 295.5h2M114 317.5h2M114 322.5h2M114 337.5h2M114 372.5h2M114 394.5h2M114 402.5h2M114 419.5h2M114 428.5h2M116 188.5h2M116 200.5h2M116 241.5h2M116 275.5h2M116 289.5h2M116 309.5h2M116 323.5h2M116 337.5h2M116 343.5h2M116 348.5h2M116 378.5h2M116 385.5h2M116 400.5h2M116 434.5h2M116 466.5h2M116 478.5h2M116 613.5h2M118 181.5h2M118 210.5h2M118 231.5h2M118 236.5h2M118 241.5h2M118 258.5h2M118 267.5h2M118 311.5h2M118 359.5h2M118 398.5h2M118 413.5h2M118 430.5h2M118 440.5h2M118 497.5h2M118 567.5h2M118 619.5h2M119 220.5h2M119 229.5h2M119 234.5h2M119 237.5h2M119 242.5h2M119 252.5h2M119 270.5h2M119 282.5h2M119 293.5h2M119 308.5h2M119 338.5h2M119 343.5h2M119 364.5h2M119 370.5h2M119 419.5h2M119 477.5h2M119 489.5h2M119 503.5h2M119 534.5h2M121 184.5h2M121 221.5h2M121 242.5h2M121 249.5h2M121 252.5h2M121 266.5h2M121 278.5h2M121 334.5h2M121 359.5h2M121 364.5h2M121 376.5h2M121 382.5h2M122 218.5h2M122 237.5h2M122 247.5h2M122 254.5h2M122 268.5h2M122 286.5h2M122 293.5h2M122 339.5h2M122 349.5h2M122 359.5h2M122 369.5h2M122 406.5h2M122 429.5h2M122 562.5h2M124 249.5h2M124 262.5h2M124 265.5h2M124 282.5h2M124 327.5h2M124 358.5h2M124 481.5h2M124 518.5h2M125 201.5h2M125 210.5h2M125 249.5h2M125 254.5h2M125 256.5h2M125 269.5h2M125 290.5h2M125 299.5h2M125 306.5h2M125 340.5h2M125 379.5h2M125 384.5h2M125 416.5h2M125 431.5h2M125 475.5h2M125 523.5h2M126 199.5h2M126 230.5h2M126 274.5h2M126 277.5h2M126 285.5h2M126 317.5h2M126 325.5h2M126 340.5h2M126 349.5h2M126 363.5h2M126 414.5h2M128 305.5h2M128 308.5h2M128 311.5h2M128 333.5h2M128 337.5h2M128 341.5h2M128 372.5h2M128 388.5h2M128 399.5h2M128 474.5h2M128 532.5h2M128 601.5h2M129 216.5h2M129 219.5h2M129 225.5h2M129 239.5h2M129 260.5h2M129 263.5h2M129 267.5h2M129 280.5h2M129 283.5h2M129 286.5h2M129 288.5h2M129 291.5h2M129 294.5h2M129 312.5h2M129 316.5h2M129 323.5h2M129 349.5h2M129 367.5h2M129 372.5h2M129 436.5h2M129 452.5h2M129 469.5h2M129 488.5h2M129 536.5h2M129 606.5h2M129 629.5h2M130 207.5h2M130 229.5h2M130 243.5h2M130 249.5h2M130 258.5h2M130 267.5h2M130 274.5h2M130 287.5h2M130 327.5h2M130 334.5h2M130 376.5h2M130 396.5h2M130 420.5h2M130 427.5h2M130 434.5h2M130 464.5h2M130 473.5h2M130 540.5h2M132 249.5h2M132 264.5h2M132 271.5h2M132 273.5h2M132 276.5h2M132 294.5h2M132 299.5h2M132 314.5h2M132 371.5h2M132 375.5h2M132 424.5h2M132 452.5h2M132 487.5h2M132 559.5h2M132 593.5h2M133 201.5h2M133 223.5h2M133 259.5h2M133 261.5h2M133 273.5h2M133 280.5h2M133 290.5h2M133 303.5h2M133 309.5h2M133 312.5h2M133 328.5h2M133 379.5h2M133 404.5h2M133 422.5h2M133 428.5h2M133 456.5h2M133 491.5h2M133 511.5h2M133 618.5h2M134 245.5h2M134 286.5h2M134 302.5h2M134 316.5h2M134 379.5h2M134 393.5h2M134 403.5h2M134 432.5h2M135 227.5h2M135 257.5h2M135 295.5h2M135 297.5h2M135 320.5h2M135 350.5h2M135 361.5h2M135 387.5h2M135 418.5h2M135 430.5h2M135 489.5h2M135 556.5h2M135 587.5h2M136 235.5h2M136 240.5h2M136 251.5h2M136 266.5h2M136 268.5h2M136 277.5h2M136 284.5h2M136 301.5h2M136 327.5h2M136 365.5h2M136 416.5h2M136 440.5h2M136 460.5h2M136 523.5h2M136 546.5h2M136 609.5h2M137 274.5h2M137 281.5h2M137 283.5h2M137 302.5h2M137 343.5h2M137 365.5h2M137 373.5h2M137 377.5h2M137 394.5h2M137 404.5h2M137 464.5h2M137 471.5h2M137 488.5h2M137 506.5h2M137 516.5h2M137 538.5h2M137 563.5h2M138 303.5h2M138 311.5h2M138 314.5h2M138 319.5h2M138 322.5h2M138 357.5h2M138 376.5h2M138 389.5h2M138 403.5h2M138 429.5h2M138 441.5h2M138 475.5h2M138 483.5h2M138 598.5h2M138 636.5h2M139 223.5h2M139 232.5h2M139 254.5h2M139 261.5h2M139 273.5h2M139 275.5h2M139 279.5h2M139 328.5h2M139 340.5h2M139 347.5h2M139 364.5h2M139 372.5h2M139 376.5h2M139 388.5h2M139 397.5h2M139 471.5h2M139 486.5h2M139 533.5h2M139 585.5h2M140 232.5h2M140 259.5h2M140 272.5h2M140 285.5h2M140 291.5h2M140 298.5h2M140 313.5h2M140 315.5h2M140 338.5h2M140 375.5h2M140 387.5h2M140 400.5h2M140 430.5h2M140 441.5h2M140 447.5h2M140 474.5h2M140 526.5h2M140 548.5h2M140 574.5h2M140 605.5h2M141 274.5h2M141 276.5h2M141 280.5h2M141 286.5h2M141 319.5h2M141 327.5h2M141 335.5h2M141 338.5h2M141 375.5h2M141 399.5h2M141 408.5h2M141 451.5h2M141 457.5h2M141 477.5h2M141 485.5h2M141 510.5h2M141 540.5h2M142 248.5h2M142 264.5h2M142 266.5h2M142 267.5h2M142 277.5h2M142 283.5h2M142 293.5h2M142 300.5h2M142 304.5h2M142 312.5h2M142 322.5h2M142 327.5h2M142 335.5h2M142 341.5h2M142 347.5h2M142 363.5h2M142 367.5h2M142 378.5h2M142 394.5h2M142 448.5h2M142 474.5h2M142 481.5h2M142 496.5h2M142 504.5h2M142 513.5h2M142 555.5h2M142 580.5h2M142 595.5h2M143 260.5h2M143 290.5h2M143 303.5h2M143 317.5h2M143 330.5h2M143 333.5h2M143 344.5h2M143 367.5h2M143 419.5h2M143 424.5h2M143 457.5h2M143 477.5h2M143 484.5h2M143 516.5h2M143 598.5h2M144 277.5h2M144 279.5h2M144 281.5h2M144 283.5h2M144 289.5h2M144 291.5h2M144 297.5h2M144 313.5h2M144 316.5h2M144 318.5h2M144 328.5h2M144 360.5h2M144 377.5h2M144 404.5h2M144 422.5h2M144 473.5h2M144 511.5h2M145 245.5h2M145 261.5h2M145 279.5h2M145 284.5h2M145 290.5h2M145 294.5h2M145 312.5h2M145 336.5h2M145 345.5h2M145 360.5h2M145 369.5h2M145 391.5h2M145 395.5h2M145 411.5h2M145 420.5h2M145 425.5h2M145 435.5h2M145 457.5h2M145 490.5h2M145 498.5h2M145 505.5h2M145 532.5h2M145 564.5h2M146 247.5h2M146 267.5h2M146 274.5h2M146 283.5h2M146 285.5h2M146 297.5h2M146 299.5h2M146 314.5h2M146 317.5h2M146 339.5h2M146 348.5h2M146 386.5h2M146 410.5h2M146 414.5h2M146 466.5h2M146 472.5h2M146 479.5h2M146 486.5h2M147 257.5h2M147 281.5h2M147 302.5h2M147 304.5h2M147 309.5h2M147 313.5h2M147 327.5h2M147 332.5h2M147 337.5h2M147 359.5h2M147 362.5h2M147 369.5h2M147 372.5h2M147 405.5h2M147 441.5h2M147 457.5h2M147 610.5h2M148 280.5h2M148 282.5h2M148 286.5h2M148 287.5h2M148 295.5h2M148 303.5h2M148 305.5h2M148 309.5h2M148 316.5h2M148 335.5h2M148 345.5h2M148 368.5h2M148 375.5h2M148 429.5h2M148 439.5h2M148 478.5h2M148 514.5h2M148 523.5h2M148 561.5h2M149 243.5h2M149 265.5h2M149 286.5h2M149 294.5h2M149 301.5h2M149 306.5h2M149 307.5h2M149 316.5h2M149 324.5h2M149 377.5h2M149 387.5h2M149 399.5h2M149 410.5h2M149 428.5h2M149 430.5h2M149 435.5h2M149 463.5h2M149 481.5h2M149 512.5h2M149 553.5h2M149 604.5h2M150 283.5h2M150 309.5h2M150 311.5h2M150 315.5h2M150 326.5h2M150 346.5h2M150 362.5h2M150 365.5h2M150 374.5h2M150 377.5h2M150 390.5h2M150 400.5h2M150 424.5h2M150 487.5h2M150 549.5h2M150 570.5h2M151 298.5h2M151 306.5h2M151 320.5h2M151 322.5h2M151 325.5h2M151 334.5h2M151 341.5h2M151 343.5h2M151 359.5h2M151 367.5h2M151 386.5h2M151 393.5h2M151 396.5h2M151 403.5h2M151 419.5h2M151 584.5h2M151 596.5h2M151 609.5h2M152 282.5h2M152 290.5h2M152 292.5h2M152 294.5h2M152 301.5h2M152 305.5h2M152 309.5h2M152 311.5h2M152 313.5h2M152 315.5h2M152 321.5h2M152 329.5h2M152 332.5h2M152 341.5h2M152 343.5h2M152 376.5h2M152 385.5h2M152 388.5h2M152 392.5h2M152 399.5h2M152 430.5h2M152 434.5h2M152 438.5h2M152 443.5h2M152 453.5h2M152 505.5h2M152 554.5h2M152 575.5h2M153 252.5h2M153 261.5h2M153 263.5h2M153 269.5h2M153 276.5h2M153 278.5h2M153 280.5h2M153 281.5h2M153 305.5h2M153 308.5h2M153 309.5h2M153 316.5h2M153 317.5h2M153 319.5h2M153 321.5h2M153 322.5h2M153 325.5h2M153 378.5h2M153 379.5h2M153 385.5h2M153 391.5h2M153 397.5h2M153 412.5h2M153 422.5h2M153 424.5h2M153 426.5h2M153 432.5h2M153 435.5h2M153 439.5h2M153 443.5h2M153 450.5h2M153 453.5h2M153 465.5h2M153 473.5h2M153 476.5h2M153 488.5h2M153 491.5h2M153 504.5h2M153 515.5h2M153 523.5h2M153 539.5h2M153 550.5h2M154 264.5h2M154 280.5h2M154 298.5h2M154 307.5h2M154 312.5h2M154 316.5h2M154 333.5h2M154 346.5h2M154 375.5h2M154 378.5h2M154 381.5h2M154 390.5h2M154 396.5h2M154 413.5h2M154 417.5h2M154 421.5h2M154 446.5h2M154 536.5h2M154 606.5h2M155 262.5h2M155 292.5h2M155 297.5h2M155 302.5h2M155 313.5h2M155 315.5h2M155 321.5h2M155 331.5h2M155 339.5h2M155 349.5h2M155 368.5h2M155 386.5h2M155 411.5h2M155 412.5h2M155 416.5h2M155 431.5h2M155 433.5h2M155 434.5h2M155 435.5h2M155 438.5h2M155 448.5h2M155 490.5h2M155 515.5h2M155 523.5h2M156 266.5h2M156 295.5h2M156 296.5h2M156 299.5h2M156 301.5h2M156 316.5h2M156 318.5h2M156 322.5h2M156 323.5h2M156 328.5h2M156 333.5h2M156 347.5h2M156 367.5h2M156 380.5h2M156 397.5h2M156 417.5h2M156 422.5h2M156 430.5h2M156 434.5h2M156 436.5h2M156 437.5h2M156 442.5h2M156 463.5h2M156 480.5h2M156 506.5h2M156 533.5h2M156 555.5h2M157 285.5h2M157 297.5h2M157 299.5h2M157 302.5h2M157 307.5h2M157 313.5h2M157 318.5h2M157 326.5h2M157 332.5h2M157 342.5h2M157 360.5h2M157 372.5h2M157 380.5h2M157 412.5h2M157 417.5h2M157 421.5h2M157 434.5h2M157 482.5h2M157 492.5h2M157 496.5h2M157 523.5h2M157 524.5h2M157 545.5h2M157 604.5h2M157 610.5h2M158 284.5h2M158 316.5h2M158 326.5h2M158 342.5h2M158 362.5h2M158 367.5h2M158 391.5h2M158 392.5h2M158 407.5h2M158 414.5h2M158 421.5h2M158 428.5h2M158 432.5h2M158 435.5h2M158 437.5h2M158 447.5h2M158 451.5h2M158 460.5h2M158 467.5h2M158 482.5h2M158 512.5h2M158 522.5h2M158 541.5h2M159 290.5h2M159 293.5h2M159 296.5h2M159 301.5h2M159 313.5h2M159 329.5h2M159 334.5h2M159 339.5h2M159 349.5h2M159 388.5h2M159 391.5h2M159 392.5h2M159 412.5h2M159 434.5h2M159 458.5h2M159 467.5h2M159 478.5h2M159 480.5h2M159 485.5h2M159 495.5h2M159 499.5h2M159 575.5h2M159 578.5h2M160 275.5h2M160 297.5h2M160 298.5h2M160 312.5h2M160 315.5h2M160 316.5h2M160 317.5h2M160 341.5h2M160 357.5h2M160 359.5h2M160 373.5h2M160 376.5h2M160 378.5h2M160 383.5h2M160 415.5h2M160 418.5h2M160 423.5h2M160 424.5h2M160 431.5h2M160 444.5h2M160 454.5h2M160 460.5h2M160 462.5h2M160 490.5h2M160 532.5h2M160 535.5h2M160 582.5h2M160 611.5h2M161 288.5h2M161 290.5h2M161 300.5h2M161 308.5h2M161 314.5h2M161 320.5h2M161 349.5h2M161 360.5h2M161 361.5h2M161 375.5h2M161 377.5h2M161 386.5h2M161 405.5h2M161 407.5h2M161 418.5h2M161 420.5h2M161 422.5h2M161 426.5h2M161 435.5h2M161 452.5h2M161 463.5h2M161 492.5h2M161 497.5h2M161 525.5h2M161 527.5h2M162 279.5h2M162 309.5h2M162 311.5h2M162 313.5h2M162 328.5h2M162 334.5h2M162 340.5h2M162 344.5h2M162 355.5h2M162 361.5h2M162 365.5h2M162 366.5h2M162 388.5h2M162 400.5h2M162 402.5h2M162 403.5h2M162 407.5h2M162 408.5h2M162 411.5h2M162 412.5h2M162 417.5h2M162 418.5h2M162 419.5h2M162 420.5h2M162 427.5h2M162 428.5h2M162 429.5h2M162 437.5h2M162 456.5h2M162 464.5h2M162 482.5h2M162 520.5h2M162 592.5h2M162 622.5h2M163 303.5h2M163 346.5h2M163 372.5h2M163 399.5h2M163 402.5h2M163 414.5h2M163 415.5h2M163 421.5h2M163 443.5h2M163 466.5h2M163 487.5h2M163 524.5h2M163 557.5h2M163 588.5h2M164 273.5h2M164 285.5h2M164 302.5h2M164 307.5h2M164 315.5h2M164 335.5h2M164 347.5h2M164 369.5h2M164 372.5h2M164 374.5h2M164 384.5h2M164 390.5h2M164 398.5h2M164 414.5h2M164 417.5h2M164 418.5h2M164 423.5h2M164 426.5h2M164 441.5h2M164 449.5h2M164 461.5h2M164 501.5h2M164 510.5h2M164 513.5h2M164 548.5h2M164 557.5h2M164 573.5h2M165 293.5h2M165 308.5h2M165 312.5h2M165 313.5h2M165 314.5h2M165 319.5h2M165 324.5h2M165 329.5h2M165 346.5h2M165 356.5h2M165 362.5h2M165 363.5h2M165 368.5h2M165 371.5h2M165 374.5h2M165 379.5h2M165 391.5h2M165 405.5h2M165 407.5h2M165 412.5h2M165 413.5h2M165 416.5h2M165 421.5h2M165 424.5h2M165 450.5h2M165 462.5h2M165 477.5h2M165 508.5h2M165 511.5h2M165 526.5h2M166 300.5h2M166 313.5h2M166 327.5h2M166 331.5h2M166 346.5h2M166 354.5h2M166 387.5h2M166 390.5h2M166 393.5h2M166 417.5h2M166 447.5h2M166 451.5h2M166 456.5h2M166 476.5h2M166 528.5h2M166 566.5h2M167 302.5h2M167 315.5h2M167 326.5h2M167 346.5h2M167 377.5h2M167 396.5h2M167 407.5h2M167 418.5h2M167 424.5h2M167 428.5h2M167 453.5h2M167 490.5h2M167 518.5h2M167 536.5h2M167 589.5h2M167 624.5h2M168 290.5h2M168 291.5h2M168 306.5h2M168 318.5h2M168 320.5h2M168 339.5h2M168 356.5h2M168 364.5h2M168 366.5h2M168 369.5h2M168 391.5h2M168 392.5h2M168 393.5h2M168 394.5h2M168 397.5h2M168 402.5h2M168 410.5h2M168 414.5h2M168 419.5h2M168 434.5h2M168 443.5h2M168 459.5h2M168 470.5h2M168 506.5h2M168 523.5h2M168 530.5h2M169 285.5h2M169 315.5h2M169 326.5h2M169 335.5h2M169 338.5h2M169 346.5h2M169 348.5h2M169 349.5h2M169 357.5h2M169 373.5h2M169 375.5h2M169 376.5h2M169 380.5h2M169 389.5h2M169 394.5h2M169 399.5h2M169 420.5h2M169 428.5h2M169 429.5h2M169 438.5h2M169 441.5h2M169 453.5h2M169 467.5h2M169 475.5h2M169 486.5h2M169 545.5h2M169 582.5h2M170 273.5h2M170 296.5h2M170 318.5h2M170 323.5h2M170 343.5h2M170 348.5h2M170 350.5h2M170 357.5h2M170 363.5h2M170 368.5h2M170 387.5h2M170 393.5h2M170 415.5h2M170 416.5h2M170 432.5h2M170 435.5h2M170 438.5h2M170 439.5h2M170 442.5h2M170 451.5h2M170 466.5h2M170 486.5h2M170 529.5h2M170 596.5h2M171 330.5h2M171 336.5h2M171 345.5h2M171 352.5h2M171 355.5h2M171 382.5h2M171 401.5h2M171 441.5h2M171 459.5h2M171 477.5h2M171 508.5h2M171 512.5h2M171 528.5h2M172 274.5h2M172 312.5h2M172 316.5h2M172 331.5h2M172 335.5h2M172 337.5h2M172 355.5h2M172 365.5h2M172 375.5h2M172 382.5h2M172 387.5h2M172 391.5h2M172 396.5h2M172 405.5h2M172 418.5h2M172 444.5h2M172 455.5h2M172 528.5h2M173 309.5h2M173 329.5h2M173 339.5h2M173 355.5h2M173 358.5h2M173 365.5h2M173 391.5h2M173 403.5h2M173 406.5h2M173 416.5h2M173 438.5h2M173 456.5h2M174 329.5h2M174 335.5h2M174 337.5h2M174 339.5h2M174 346.5h2M174 351.5h2M174 358.5h2M174 368.5h2M174 373.5h2M174 381.5h2M174 389.5h2M174 405.5h2M174 409.5h2M174 438.5h2M174 451.5h2M174 456.5h2M174 479.5h2M174 490.5h2M174 491.5h2M174 550.5h2M175 308.5h2M175 310.5h2M175 311.5h2M175 322.5h2M175 323.5h2M175 334.5h2M175 340.5h2M175 341.5h2M175 344.5h2M175 350.5h2M175 351.5h2M175 356.5h2M175 366.5h2M175 372.5h2M175 374.5h2M175 375.5h2M175 381.5h2M175 383.5h2M175 409.5h2M175 424.5h2M175 448.5h2M175 596.5h2M176 270.5h2M176 313.5h2M176 316.5h2M176 323.5h2M176 327.5h2M176 342.5h2M176 343.5h2M176 347.5h2M176 348.5h2M176 359.5h2M176 365.5h2M176 374.5h2M176 375.5h2M176 388.5h2M176 409.5h2M176 425.5h2M176 464.5h2M176 476.5h2M177 313.5h2M177 314.5h2M177 316.5h2M177 317.5h2M177 325.5h2M177 339.5h2M177 345.5h2M177 351.5h2M177 367.5h2M177 387.5h2M177 399.5h2M177 471.5h2M177 560.5h2M178 280.5h2M178 303.5h2M178 313.5h2M178 314.5h2M178 326.5h2M178 328.5h2M178 337.5h2M178 341.5h2M178 344.5h2M178 347.5h2M178 356.5h2M178 359.5h2M178 381.5h2M178 383.5h2M178 389.5h2M178 406.5h2M178 415.5h2M178 463.5h2M179 299.5h2M179 323.5h2M179 333.5h2M179 339.5h2M179 380.5h2M179 390.5h2M179 405.5h2M179 421.5h2M179 437.5h2M179 442.5h2M179 444.5h2M179 502.5h2M180 319.5h2M180 342.5h2M180 343.5h2M180 344.5h2M180 350.5h2M180 360.5h2M180 390.5h2M180 396.5h2M180 417.5h2M180 421.5h2M180 425.5h2M180 428.5h2M180 473.5h2M181 330.5h2M181 340.5h2M181 347.5h2M181 352.5h2M181 367.5h2M181 371.5h2M181 372.5h2M181 391.5h2M181 397.5h2M181 400.5h2M181 431.5h2M181 437.5h2M181 438.5h2M181 506.5h2M181 561.5h2M182 286.5h2M182 321.5h2M182 337.5h2M182 341.5h2M182 356.5h2M182 375.5h2M182 382.5h2M182 388.5h2M182 413.5h2M182 416.5h2M182 419.5h2M182 439.5h2M182 468.5h2M182 487.5h2M182 494.5h2M183 321.5h2M183 328.5h2M183 334.5h2M183 336.5h2M183 355.5h2M183 357.5h2M183 369.5h2M183 376.5h2M183 380.5h2M183 403.5h2M183 407.5h2M183 408.5h2M183 437.5h2M183 444.5h2M183 532.5h2M184 303.5h2M184 317.5h2M184 319.5h2M184 323.5h2M184 378.5h2M184 405.5h2M184 408.5h2M184 412.5h2M184 423.5h2M184 465.5h2M184 529.5h2M185 325.5h2M185 340.5h2M185 354.5h2M185 358.5h2M185 370.5h2M185 373.5h2M185 374.5h2M185 378.5h2M185 380.5h2M185 393.5h2M185 404.5h2M185 410.5h2M185 411.5h2M186 325.5h2M186 337.5h2M186 346.5h2M186 356.5h2M186 358.5h2M186 359.5h2M186 363.5h2M186 366.5h2M186 368.5h2M186 374.5h2M186 404.5h2M186 438.5h2M186 442.5h2M186 466.5h2M186 492.5h2M187 311.5h2M187 318.5h2M187 340.5h2M187 347.5h2M187 350.5h2M187 371.5h2M187 372.5h2M187 373.5h2M187 455.5h2M187 513.5h2M188 319.5h2M188 331.5h2M188 333.5h2M188 339.5h2M188 345.5h2M188 358.5h2M188 380.5h2M188 388.5h2M188 393.5h2M188 397.5h2M188 505.5h2M189 327.5h2M189 352.5h2M189 361.5h2M189 364.5h2M189 386.5h2M189 411.5h2M190 303.5h2M190 306.5h2M190 314.5h2M190 325.5h2M190 334.5h2M190 340.5h2M190 344.5h2M190 360.5h2M190 380.5h2M190 387.5h2M190 393.5h2M190 397.5h2M190 412.5h2M190 443.5h2M190 444.5h2M191 316.5h2M191 324.5h2M191 325.5h2M191 327.5h2M191 331.5h2M191 334.5h2M191 337.5h2M191 360.5h2M191 407.5h2M191 410.5h2M191 453.5h2M191 511.5h2M192 307.5h2M192 316.5h2M192 331.5h2M192 333.5h2M192 337.5h2M192 342.5h2M192 346.5h2M192 347.5h2M192 350.5h2M192 364.5h2M192 365.5h2M192 371.5h2M192 415.5h2M192 424.5h2M192 510.5h2M193 302.5h2M193 328.5h2M193 364.5h2M193 368.5h2M193 396.5h2M193 423.5h2M193 439.5h2M193 477.5h2M194 277.5h2M194 310.5h2M194 311.5h2M194 321.5h2M194 327.5h2M194 339.5h2M194 350.5h2M194 359.5h2M194 361.5h2M194 362.5h2M194 365.5h2M195 313.5h2M195 350.5h2M195 357.5h2M195 364.5h2M195 371.5h2M195 404.5h2M196 316.5h2M196 333.5h2M196 346.5h2M196 374.5h2M196 379.5h2M196 380.5h2M196 393.5h2M196 394.5h2M196 398.5h2M196 412.5h2M196 425.5h2M196 533.5h2M197 322.5h2M197 342.5h2M197 343.5h2M197 362.5h2M197 372.5h2M197 379.5h2M197 380.5h2M197 393.5h2M197 405.5h2M197 408.5h2M197 409.5h2M198 307.5h2M198 314.5h2M198 344.5h2M198 348.5h2M198 349.5h2M198 350.5h2M198 371.5h2M198 373.5h2M198 382.5h2M198 384.5h2M198 391.5h2M198 392.5h2M198 404.5h2M198 407.5h2M198 444.5h2M199 319.5h2M199 323.5h2M199 327.5h2M199 332.5h2M199 335.5h2M199 336.5h2M199 342.5h2M199 349.5h2M199 352.5h2M199 377.5h2M199 400.5h2M199 406.5h2M199 409.5h2M199 477.5h2M200 334.5h2M200 335.5h2M200 347.5h2M200 353.5h2M200 363.5h2M200 366.5h2M200 370.5h2M201 304.5h2M201 313.5h2M201 328.5h2M201 334.5h2M201 338.5h2M201 340.5h2M201 341.5h2M201 353.5h2M201 374.5h2M201 411.5h2M202 292.5h2M202 324.5h2M202 341.5h2M202 351.5h2M202 353.5h2M202 355.5h2M202 398.5h2M202 413.5h2M202 415.5h2M202 416.5h2M203 316.5h2M203 320.5h2M203 330.5h2M203 337.5h2M203 341.5h2M203 355.5h2M203 356.5h2M203 390.5h2M203 395.5h2M203 429.5h2M204 308.5h2M204 348.5h2M204 381.5h2M204 386.5h2M204 388.5h2M204 389.5h2M204 425.5h2M205 294.5h2M205 334.5h2M205 337.5h2M205 349.5h2M205 359.5h2M205 362.5h2M205 394.5h2M205 441.5h2M206 344.5h2M206 359.5h2M206 364.5h2M206 376.5h2M206 386.5h2M207 318.5h2M207 332.5h2M207 340.5h2M207 341.5h2M207 346.5h2M207 357.5h2M207 365.5h2M207 374.5h2M207 387.5h2M207 403.5h2M208 322.5h2M208 334.5h2M208 335.5h2M208 336.5h2M208 358.5h2M208 372.5h2M208 384.5h2M209 316.5h2M209 323.5h2M209 331.5h2M209 349.5h2M209 353.5h2M209 354.5h2M209 366.5h2M209 376.5h2M209 379.5h2M209 391.5h2M210 353.5h2M210 355.5h2M210 356.5h2M210 357.5h2M210 360.5h2M210 409.5h2M211 360.5h2M211 361.5h2M211 362.5h2M211 364.5h2M211 368.5h2M211 378.5h2M212 297.5h2M212 308.5h2M212 327.5h2M212 331.5h2M212 344.5h2M212 382.5h2M213 326.5h2M213 329.5h2M213 331.5h2M213 334.5h2M213 342.5h2M213 362.5h2M214 310.5h2M214 328.5h2M214 334.5h2M214 352.5h2M214 355.5h2M214 371.5h2M214 411.5h2M215 314.5h2M215 336.5h2M215 338.5h2M215 343.5h2M215 348.5h2M215 356.5h2M215 357.5h2M215 359.5h2M215 379.5h2M216 321.5h2M216 328.5h2M216 340.5h2M216 346.5h2M216 355.5h2M216 358.5h2M216 364.5h2M216 376.5h2M216 385.5h2M216 392.5h2M217 275.5h2M217 308.5h2M217 322.5h2M217 332.5h2M217 334.5h2M217 340.5h2M217 344.5h2M217 347.5h2M217 355.5h2M217 356.5h2M218 323.5h2M218 351.5h2M218 360.5h2M218 365.5h2M218 370.5h2M218 387.5h2M218 418.5h2M219 325.5h2M219 331.5h2M219 340.5h2M219 343.5h2M219 352.5h2M219 353.5h2M219 354.5h2M219 357.5h2M220 326.5h2M220 329.5h2M220 340.5h2M220 347.5h2M220 348.5h2M220 350.5h2M220 357.5h2M220 358.5h2M220 362.5h2M220 374.5h2M221 346.5h2M221 347.5h2M222 342.5h2M222 347.5h2M222 350.5h2M222 352.5h2M222 353.5h2M222 362.5h2M223 363.5h2M223 548.5h2M224 319.5h2M224 343.5h2M224 353.5h2M225 337.5h2M225 352.5h2M225 364.5h2M226 331.5h2M226 335.5h2M226 342.5h2M226 350.5h2M226 392.5h2M227 319.5h2M227 323.5h2M227 330.5h2M227 335.5h2M227 339.5h2M227 345.5h2M227 349.5h2M227 350.5h2M228 322.5h2M228 327.5h2M228 351.5h2M229 345.5h2M229 358.5h2M229 364.5h2M230 322.5h2M231 334.5h2M231 339.5h2M231 345.5h2M231 347.5h2M231 361.5h2M231 367.5h2M232 324.5h2M232 325.5h2M232 339.5h2M232 341.5h2M232 342.5h2M232 355.5h2M232 379.5h2M233 331.5h2M233 337.5h2M233 343.5h2M233 350.5h2M233 352.5h2M233 354.5h2M234 311.5h2M234 332.5h2M234 336.5h2M234 341.5h2M234 359.5h2M235 330.5h2M235 332.5h2M235 346.5h2M235 365.5h2M236 324.5h2M236 333.5h2M236 335.5h2M236 342.5h2M236 345.5h2M237 356.5h2M238 332.5h2M238 341.5h2M238 351.5h2M239 315.5h2M239 339.5h2M239 349.5h2M239 357.5h2M240 304.5h2M240 318.5h2M240 328.5h2M240 329.5h2M240 331.5h2M240 337.5h2M240 350.5h2M240 479.5h2M241 339.5h2M241 354.5h2M241 443.5h2M242 332.5h2M242 335.5h2M242 350.5h2M242 356.5h2M243 328.5h2M243 334.5h2M243 364.5h2M243 486.5h2M244 332.5h2M244 339.5h2M244 340.5h2M244 344.5h2M245 326.5h2M246 325.5h2M246 333.5h2M247 375.5h2M248 329.5h2M248 333.5h2M249 329.5h2M249 331.5h2M249 336.5h2M249 338.5h2M249 368.5h2M250 425.5h2M251 325.5h2M251 337.5h2M251 348.5h2M251 355.5h2M251 479.5h2M253 332.5h2M253 337.5h2M254 325.5h2M254 328.5h2M254 338.5h2M254 362.5h2M254 472.5h2M255 347.5h2M255 421.5h2M256 332.5h2M256 333.5h2M256 335.5h2M257 329.5h2M257 345.5h2M258 343.5h2M258 349.5h2M259 322.5h2M259 338.5h2M259 449.5h2M260 338.5h2M260 418.5h2M261 327.5h2M261 342.5h2M265 341.5h2M266 337.5h2M267 336.5h2M267 343.5h2M268 342.5h2M269 328.5h2M269 341.5h2M269 346.5h2M269 362.5h2M269 449.5h2M271 348.5h2M272 328.5h2M272 339.5h2M275 319.5h2M275 341.5h2M275 444.5h2M276 329.5h2M276 339.5h2M277 482.5h2M279 329.5h2M280 333.5h2M280 338.5h2M280 453.5h2M281 341.5h2M281 349.5h2M283 344.5h2M283 370.5h2M284 332.5h2M284 337.5h2M285 335.5h2M286 338.5h2M288 336.5h2M290 332.5h2M290 347.5h2M291 356.5h2M291 427.5h2M292 336.5h2M295 340.5h2M296 329.5h2M296 350.5h2M297 345.5h2M298 330.5h2M300 337.5h2M301 334.5h2M301 364.5h2M302 329.5h2M304 328.5h2M305 332.5h2M306 326.5h2M306 350.5h2M307 334.5h2M308 332.5h2M309 334.5h2M310 324.5h2M313 342.5h2M314 337.5h2M314 391.5h2M314 460.5h2M316 335.5h2M321 341.5h2M323 344.5h2M326 341.5h2M338 334.5h2M339 329.5h2M350 333.5h2M351 342.5h2M354 341.5h2M359 334.5h2M365 334.5h2M376 337.5h2M382 330.5h2M413 336.5h2M425 339.5h2M455 333.5h2M466 339.5h2" stroke="#000" stroke-width="1" fill="none"/>
</g>
<path d="M72 354.5H581" stroke="#f00" stroke-width="1" stroke-dasharray="4 2" fill="none"/>
<path d="M71.5 71V639M71 71.5H582M581.5 71V639" stroke="#00f" stroke-width="1" fill="none"/>
<path d="M71.5 72V630M581.5 94V630" stroke="#000" stroke-width="1" stroke-dasharray="1 2" fill="none"/>
<path d="M81 71.5H354" stroke="#000" stroke-width="1" stroke-dasharray="1 2" fill="none"/>
<path d="M72 638.5H581" stroke="#000" stroke-width="1" fill="none"/>
<path d="M92.5 633V639M114.5 633V639M135.5 633V639M156.5 629V638M177.5 633V639M198.5 633V639M220.5 633V639M241.5 629V638M262.5 633V639M284.5 633V639M305.5 633V639M326.5 629V638M347.5 633V639M368.5 633V639M390.5 633V639M411.5 629V638M432.5 633V639M454.5 633V639M475.5 633V639M496.5 629V638M517.5 633V639M538.5 633V639M560.5 633V639M71 623.5H76M71 609.5H76M71 595.5H76M71 581.5H76M71 567.5H81M71 552.5H76M71 538.5H76M71 524.5H76M71 510.5H76M71 496.5H81M71 482.5H76M71 467.5H76M71 453.5H76M71 439.5H76M71 425.5H81M71 411.5H76M71 397.5H76M71 382.5H76M71 368.5H76M71 354.5H81M71 340.5H76M71 326.5H76M71 311.5H76M71 297.5H76M71 283.5H81M71 269.5H76M71 255.5H76M71 241.5H76M71 226.5H76M71 212.5H81M71 198.5H76M71 184.5H76M71 170.5H76M71 156.5H76M71 141.5H81M71 127.5H76M71 113.5H76M71 99.5H76M71 85.5H76M71.5 629V639M581.5 629V639" stroke="#00f" stroke-width="1" fill="none"/>
<g fill="#00f" font-family="'Liberation Sans', sans-serif" shape-rendering="auto" text-rendering="geometricPrecision">
<text x="127" y="46" font-family="'Liberation Serif', serif" font-weight="bold" font-size="25" textLength="371" lengthAdjust="spacingAndGlyphs">HSTPHOT: Field ngc6822_u38607</text>
<g stroke="#fff" stroke-width="0.35" paint-order="fill stroke">
<text x="367" y="88.5" font-size="17" textLength="65" lengthAdjust="spacingAndGlyphs">ENTRIES</text>
<text x="518" y="88.5" font-size="17" textLength="52" lengthAdjust="spacingAndGlyphs">16512</text>
<text x="101.2" y="94" font-size="16.5" textLength="54" lengthAdjust="spacingAndGlyphs">F439W</text>
<text x="205" y="675.3" font-size="21.3" textLength="241" lengthAdjust="spacingAndGlyphs">2.5log10(Aperture flux)</text>
<text transform="translate(29.3,412) rotate(-90)" font-size="21.3" textLength="339" lengthAdjust="spacingAndGlyphs">2.5log10(PSF flux/Aperture flux)</text>
</g>
<text x="60.8" y="75.5" font-size="12" text-anchor="end">2</text>
<text x="60.8" y="146.4" font-size="12" text-anchor="end" textLength="17.5" lengthAdjust="spacing">1.5</text>
<text x="60.8" y="217.2" font-size="12" text-anchor="end">1</text>
<text x="60.8" y="288.1" font-size="12" text-anchor="end" textLength="17.5" lengthAdjust="spacing">0.5</text>
<text x="60.8" y="359.0" font-size="12" text-anchor="end">0</text>
<text x="32.4" y="429.9" font-size="12"><tspan textLength="9.7" lengthAdjust="spacingAndGlyphs" stroke="#00f" stroke-width="0.45">−</tspan><tspan x="43.3" textLength="17.5" lengthAdjust="spacing">0.5</tspan></text>
<text x="44.1" y="500.8" font-size="12"><tspan textLength="9.7" lengthAdjust="spacingAndGlyphs" stroke="#00f" stroke-width="0.45">−</tspan><tspan x="54.1">1</tspan></text>
<text x="32.4" y="571.6" font-size="12"><tspan textLength="9.7" lengthAdjust="spacingAndGlyphs" stroke="#00f" stroke-width="0.45">−</tspan><tspan x="43.3" textLength="17.5" lengthAdjust="spacing">1.5</tspan></text>
<text x="44.4" y="642.5" font-size="12"><tspan textLength="9.7" lengthAdjust="spacingAndGlyphs" stroke="#00f" stroke-width="0.45">−</tspan><tspan x="54.1">2</tspan></text>
<text x="71.2" y="652" font-size="12" text-anchor="middle">0</text>
<text x="156.2" y="652" font-size="12" text-anchor="middle">2</text>
<text x="241.2" y="652" font-size="12" text-anchor="middle">4</text>
<text x="326.2" y="652" font-size="12" text-anchor="middle">6</text>
<text x="411.2" y="652" font-size="12" text-anchor="middle">8</text>
<text x="497.1" y="652" font-size="12" text-anchor="middle">10</text>
<text x="582.1" y="652" font-size="12" text-anchor="middle">12</text>
</g>
</svg>
</body></html>
